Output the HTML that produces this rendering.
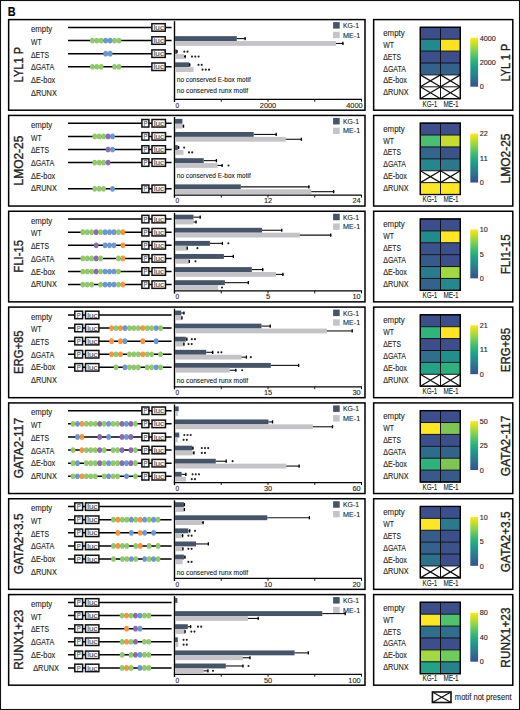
<!DOCTYPE html>
<html><head><meta charset="utf-8"><style>
html,body{margin:0;padding:0;background:#fff;}
svg{display:block;}
</style></head><body>
<svg width="520" height="710" viewBox="0 0 520 710">
<defs><linearGradient id="vir" x1="0" y1="1" x2="0" y2="0">
<stop offset="0.000" stop-color="#3b528b"/>
<stop offset="0.083" stop-color="#355f8d"/>
<stop offset="0.167" stop-color="#2c728e"/>
<stop offset="0.250" stop-color="#26828e"/>
<stop offset="0.333" stop-color="#21918c"/>
<stop offset="0.417" stop-color="#1fa088"/>
<stop offset="0.500" stop-color="#28ae80"/>
<stop offset="0.583" stop-color="#3fbc73"/>
<stop offset="0.667" stop-color="#5ec962"/>
<stop offset="0.750" stop-color="#84d44b"/>
<stop offset="0.833" stop-color="#addc30"/>
<stop offset="0.917" stop-color="#d8e219"/>
<stop offset="1.000" stop-color="#fde725"/>
</linearGradient></defs>
<g font-family='"Liberation Sans", sans-serif' fill="#231f20" stroke="none">
<style>text{stroke:#231f20;stroke-width:0.12px;paint-order:stroke;}</style>
<rect x="0" y="0" width="520" height="710" fill="#fff"/>
<rect x="0.5" y="0.5" width="519" height="709" fill="none" stroke="#111" stroke-width="1.1"/>
<text x="7.8" y="15.7" font-size="12.2" font-weight="bold" fill="#000" textLength="7.9" lengthAdjust="spacingAndGlyphs">B</text>
<rect x="8.65" y="19.60" width="356.35" height="90.6" fill="none" stroke="#000" stroke-width="1.5"/>
<rect x="373.65" y="19.60" width="139.15" height="90.6" fill="none" stroke="#000" stroke-width="1.5"/>
<text transform="translate(22.5 64.70) rotate(-90)" x="0" y="0" font-size="12" style="stroke-width:0.35px" text-anchor="middle" textLength="35.50" lengthAdjust="spacingAndGlyphs">LYL1 P</text>
<text x="31.00" y="32.10" font-size="9.9" text-anchor="start" textLength="21.2" lengthAdjust="spacingAndGlyphs">empty</text>
<text x="31.00" y="44.80" font-size="9.9" text-anchor="start" textLength="10.6" lengthAdjust="spacingAndGlyphs">WT</text>
<text x="31.00" y="57.50" font-size="9.9" text-anchor="start" textLength="18.0" lengthAdjust="spacingAndGlyphs">ΔETS</text>
<text x="31.00" y="70.20" font-size="9.9" text-anchor="start" textLength="23.2" lengthAdjust="spacingAndGlyphs">ΔGATA</text>
<text x="31.00" y="82.90" font-size="9.9" text-anchor="start" textLength="24.2" lengthAdjust="spacingAndGlyphs">ΔE-box</text>
<text x="31.00" y="95.60" font-size="9.9" text-anchor="start" textLength="25.8" lengthAdjust="spacingAndGlyphs">ΔRUNX</text>
<line x1="68" y1="27.45" x2="171.6" y2="27.45" stroke="#000" stroke-width="1.5"/>
<rect x="151.90" y="23.70" width="13.30" height="7.5" fill="#fff" stroke="#111" stroke-width="1.5"/>
<text x="158.75" y="30.05" font-size="7.4" text-anchor="middle" textLength="10.4" lengthAdjust="spacingAndGlyphs" fill="#555" style="stroke:#555;stroke-width:0.15px">luc</text>
<line x1="68" y1="40.55" x2="171.6" y2="40.55" stroke="#000" stroke-width="1.5"/>
<ellipse cx="92.30" cy="40.55" rx="2.35" ry="2.85" fill="#90c96a"/>
<ellipse cx="96.75" cy="40.55" rx="2.35" ry="2.85" fill="#90c96a"/>
<ellipse cx="101.21" cy="40.55" rx="2.35" ry="2.85" fill="#90c96a"/>
<ellipse cx="105.66" cy="40.55" rx="2.35" ry="2.85" fill="#6d97d4"/>
<ellipse cx="110.12" cy="40.55" rx="2.35" ry="2.85" fill="#6d97d4"/>
<ellipse cx="114.57" cy="40.55" rx="2.35" ry="2.85" fill="#90c96a"/>
<ellipse cx="119.03" cy="40.55" rx="2.35" ry="2.85" fill="#90c96a"/>
<rect x="151.90" y="36.80" width="13.30" height="7.5" fill="#fff" stroke="#111" stroke-width="1.5"/>
<text x="158.75" y="43.15" font-size="7.4" text-anchor="middle" textLength="10.4" lengthAdjust="spacingAndGlyphs" fill="#555" style="stroke:#555;stroke-width:0.15px">luc</text>
<line x1="68" y1="53.65" x2="171.6" y2="53.65" stroke="#000" stroke-width="1.5"/>
<ellipse cx="105.66" cy="53.65" rx="2.35" ry="2.85" fill="#6d97d4"/>
<ellipse cx="110.12" cy="53.65" rx="2.35" ry="2.85" fill="#6d97d4"/>
<rect x="151.90" y="49.90" width="13.30" height="7.5" fill="#fff" stroke="#111" stroke-width="1.5"/>
<text x="158.75" y="56.25" font-size="7.4" text-anchor="middle" textLength="10.4" lengthAdjust="spacingAndGlyphs" fill="#555" style="stroke:#555;stroke-width:0.15px">luc</text>
<line x1="68" y1="66.75" x2="171.6" y2="66.75" stroke="#000" stroke-width="1.5"/>
<ellipse cx="92.30" cy="66.75" rx="2.35" ry="2.85" fill="#90c96a"/>
<ellipse cx="96.75" cy="66.75" rx="2.35" ry="2.85" fill="#90c96a"/>
<ellipse cx="101.21" cy="66.75" rx="2.35" ry="2.85" fill="#90c96a"/>
<ellipse cx="114.57" cy="66.75" rx="2.35" ry="2.85" fill="#90c96a"/>
<ellipse cx="119.03" cy="66.75" rx="2.35" ry="2.85" fill="#90c96a"/>
<rect x="151.90" y="63.00" width="13.30" height="7.5" fill="#fff" stroke="#111" stroke-width="1.5"/>
<text x="158.75" y="69.35" font-size="7.4" text-anchor="middle" textLength="10.4" lengthAdjust="spacingAndGlyphs" fill="#555" style="stroke:#555;stroke-width:0.15px">luc</text>
<line x1="174.5" y1="21.20" x2="174.5" y2="101.90" stroke="#000" stroke-width="1.4"/>
<line x1="173.9" y1="99.30" x2="361.9" y2="99.30" stroke="#000" stroke-width="1.3"/>
<line x1="221.25" y1="99.30" x2="221.25" y2="101.70" stroke="#111" stroke-width="1"/>
<line x1="268.00" y1="99.30" x2="268.00" y2="101.70" stroke="#111" stroke-width="1"/>
<line x1="314.75" y1="99.30" x2="314.75" y2="101.70" stroke="#111" stroke-width="1"/>
<line x1="361.50" y1="99.30" x2="361.50" y2="101.70" stroke="#111" stroke-width="1"/>
<text x="177.30" y="107.60" font-size="7" text-anchor="middle" textLength="3.6" lengthAdjust="spacingAndGlyphs">0</text>
<text x="268.00" y="107.60" font-size="7" text-anchor="middle" textLength="16.4" lengthAdjust="spacingAndGlyphs">2000</text>
<text x="362.60" y="107.60" font-size="7" text-anchor="end" textLength="16.4" lengthAdjust="spacingAndGlyphs">4000</text>
<rect x="333.1" y="22.10" width="6.6" height="6.5" fill="#46546a"/>
<rect x="333.1" y="31.80" width="6.6" height="6.4" fill="#c4c4c8"/>
<text x="343.00" y="28.10" font-size="7.8" text-anchor="start" textLength="16.1" lengthAdjust="spacingAndGlyphs">KG-1</text>
<text x="343.00" y="37.60" font-size="7.8" text-anchor="start" textLength="17.2" lengthAdjust="spacingAndGlyphs">ME-1</text>
<rect x="175.00" y="36.15" width="61.80" height="4.90" fill="#46546a"/>
<line x1="236.80" y1="38.60" x2="245.70" y2="38.60" stroke="#111" stroke-width="1.1"/>
<line x1="245.10" y1="37.00" x2="245.10" y2="40.20" stroke="#000" stroke-width="1.3"/>
<rect x="175.00" y="41.05" width="161.00" height="4.80" fill="#c4c4c8"/>
<line x1="336.00" y1="43.45" x2="343.50" y2="43.45" stroke="#111" stroke-width="1.1"/>
<line x1="342.90" y1="41.85" x2="342.90" y2="45.05" stroke="#000" stroke-width="1.3"/>
<rect x="175.00" y="49.25" width="1.60" height="4.90" fill="#46546a"/>
<line x1="176.60" y1="51.70" x2="177.60" y2="51.70" stroke="#111" stroke-width="1.1"/>
<line x1="177.00" y1="50.10" x2="177.00" y2="53.30" stroke="#000" stroke-width="1.3"/>
<ellipse cx="184.30" cy="51.70" rx="1.05" ry="1.1" fill="#222"/>
<ellipse cx="187.50" cy="51.70" rx="1.05" ry="1.1" fill="#222"/>
<rect x="175.00" y="54.15" width="9.00" height="4.80" fill="#c4c4c8"/>
<line x1="184.00" y1="56.55" x2="185.70" y2="56.55" stroke="#111" stroke-width="1.1"/>
<line x1="185.10" y1="54.95" x2="185.10" y2="58.15" stroke="#000" stroke-width="1.3"/>
<ellipse cx="192.00" cy="56.55" rx="1.05" ry="1.1" fill="#222"/>
<ellipse cx="195.30" cy="56.55" rx="1.05" ry="1.1" fill="#222"/>
<ellipse cx="198.60" cy="56.55" rx="1.05" ry="1.1" fill="#222"/>
<rect x="175.00" y="62.35" width="14.20" height="4.90" fill="#46546a"/>
<line x1="189.20" y1="64.80" x2="190.30" y2="64.80" stroke="#111" stroke-width="1.1"/>
<line x1="189.70" y1="63.20" x2="189.70" y2="66.40" stroke="#000" stroke-width="1.3"/>
<ellipse cx="198.50" cy="64.80" rx="1.05" ry="1.1" fill="#222"/>
<ellipse cx="201.70" cy="64.80" rx="1.05" ry="1.1" fill="#222"/>
<rect x="175.00" y="67.25" width="18.60" height="4.80" fill="#c4c4c8"/>
<ellipse cx="202.50" cy="69.65" rx="1.05" ry="1.1" fill="#222"/>
<ellipse cx="205.80" cy="69.65" rx="1.05" ry="1.1" fill="#222"/>
<ellipse cx="209.00" cy="69.65" rx="1.05" ry="1.1" fill="#222"/>
<text x="176.80" y="82.10" font-size="7.8" text-anchor="start" textLength="74" lengthAdjust="spacingAndGlyphs">no conserved E-box motif</text>
<text x="176.80" y="92.50" font-size="7.8" text-anchor="start" textLength="71.3" lengthAdjust="spacingAndGlyphs">no conserved runx motif</text>
<rect x="420.30" y="27.30" width="20.20" height="11.90" fill="#3c4f8c"/>
<rect x="440.50" y="27.30" width="19.80" height="11.90" fill="#3c4f8c"/>
<rect x="420.30" y="39.20" width="20.20" height="11.90" fill="#23898e"/>
<rect x="440.50" y="39.20" width="19.80" height="11.90" fill="#fbe31f"/>
<rect x="420.30" y="51.10" width="20.20" height="11.90" fill="#3c4f8c"/>
<rect x="440.50" y="51.10" width="19.80" height="11.90" fill="#3c4f8c"/>
<rect x="420.30" y="63.00" width="20.20" height="11.90" fill="#33628d"/>
<rect x="440.50" y="63.00" width="19.80" height="11.90" fill="#33628d"/>
<rect x="420.30" y="74.90" width="20.20" height="11.90" fill="#fff"/>
<path d="M420.30 74.90L440.50 86.80M440.50 74.90L420.30 86.80" stroke="#111" stroke-width="1.25"/>
<rect x="440.50" y="74.90" width="19.80" height="11.90" fill="#fff"/>
<path d="M440.50 74.90L460.30 86.80M460.30 74.90L440.50 86.80" stroke="#111" stroke-width="1.25"/>
<rect x="420.30" y="86.80" width="20.20" height="11.90" fill="#fff"/>
<path d="M420.30 86.80L440.50 98.70M440.50 86.80L420.30 98.70" stroke="#111" stroke-width="1.25"/>
<rect x="440.50" y="86.80" width="19.80" height="11.90" fill="#fff"/>
<path d="M440.50 86.80L460.30 98.70M460.30 86.80L440.50 98.70" stroke="#111" stroke-width="1.25"/>
<line x1="420.30" y1="27.30" x2="460.30" y2="27.30" stroke="#111" stroke-width="1"/>
<line x1="420.30" y1="39.20" x2="460.30" y2="39.20" stroke="#111" stroke-width="1"/>
<line x1="420.30" y1="51.10" x2="460.30" y2="51.10" stroke="#111" stroke-width="1"/>
<line x1="420.30" y1="63.00" x2="460.30" y2="63.00" stroke="#111" stroke-width="1"/>
<line x1="420.30" y1="74.90" x2="460.30" y2="74.90" stroke="#111" stroke-width="1"/>
<line x1="420.30" y1="86.80" x2="460.30" y2="86.80" stroke="#111" stroke-width="1"/>
<line x1="420.30" y1="98.70" x2="460.30" y2="98.70" stroke="#111" stroke-width="1"/>
<line x1="420.30" y1="26.80" x2="420.30" y2="99.20" stroke="#111" stroke-width="1"/>
<line x1="440.50" y1="26.80" x2="440.50" y2="99.20" stroke="#111" stroke-width="1"/>
<line x1="460.30" y1="26.80" x2="460.30" y2="99.20" stroke="#111" stroke-width="1"/>
<rect x="420.30" y="27.30" width="40.00" height="71.40" fill="none" stroke="#000" stroke-width="1.3"/>
<text x="383.20" y="35.80" font-size="9.9" text-anchor="start" textLength="21.5" lengthAdjust="spacingAndGlyphs">empty</text>
<text x="383.20" y="47.70" font-size="9.9" text-anchor="start" textLength="10.8" lengthAdjust="spacingAndGlyphs">WT</text>
<text x="383.20" y="59.60" font-size="9.9" text-anchor="start" textLength="17.8" lengthAdjust="spacingAndGlyphs">ΔETS</text>
<text x="383.20" y="71.50" font-size="9.9" text-anchor="start" textLength="22.8" lengthAdjust="spacingAndGlyphs">ΔGATA</text>
<text x="383.20" y="83.40" font-size="9.9" text-anchor="start" textLength="23.7" lengthAdjust="spacingAndGlyphs">ΔE-box</text>
<text x="383.20" y="95.30" font-size="9.9" text-anchor="start" textLength="25.4" lengthAdjust="spacingAndGlyphs">ΔRUNX</text>
<text x="422.50" y="106.50" font-size="8.6" text-anchor="start" textLength="14.8" lengthAdjust="spacingAndGlyphs">KG-1</text>
<text x="443.40" y="106.50" font-size="8.6" text-anchor="start" textLength="15.3" lengthAdjust="spacingAndGlyphs">ME-1</text>
<rect x="470.3" y="37.80" width="7.8" height="48.9" fill="url(#vir)"/>
<text x="479.70" y="40.50" font-size="6.6" text-anchor="start" textLength="16.0" lengthAdjust="spacingAndGlyphs">4000</text>
<text x="479.70" y="64.95" font-size="6.6" text-anchor="start" textLength="16.0" lengthAdjust="spacingAndGlyphs">2000</text>
<text x="479.70" y="89.40" font-size="6.6" text-anchor="start" textLength="4.0" lengthAdjust="spacingAndGlyphs">0</text>
<text transform="translate(510.4 62.60) rotate(-90)" x="0" y="0" font-size="12.2" style="stroke-width:0.35px" text-anchor="middle" textLength="37.90" lengthAdjust="spacingAndGlyphs">LYL 1 P</text>
<rect x="8.65" y="115.43" width="356.35" height="90.6" fill="none" stroke="#000" stroke-width="1.5"/>
<rect x="373.65" y="115.43" width="139.15" height="90.6" fill="none" stroke="#000" stroke-width="1.5"/>
<text transform="translate(22.5 160.53) rotate(-90)" x="0" y="0" font-size="12" style="stroke-width:0.35px" text-anchor="middle" textLength="49.80" lengthAdjust="spacingAndGlyphs">LMO2-25</text>
<text x="31.00" y="127.93" font-size="9.9" text-anchor="start" textLength="21.2" lengthAdjust="spacingAndGlyphs">empty</text>
<text x="31.00" y="140.63" font-size="9.9" text-anchor="start" textLength="10.6" lengthAdjust="spacingAndGlyphs">WT</text>
<text x="31.00" y="153.33" font-size="9.9" text-anchor="start" textLength="18.0" lengthAdjust="spacingAndGlyphs">ΔETS</text>
<text x="31.00" y="166.03" font-size="9.9" text-anchor="start" textLength="23.2" lengthAdjust="spacingAndGlyphs">ΔGATA</text>
<text x="31.00" y="178.73" font-size="9.9" text-anchor="start" textLength="24.2" lengthAdjust="spacingAndGlyphs">ΔE-box</text>
<text x="31.00" y="191.43" font-size="9.9" text-anchor="start" textLength="25.8" lengthAdjust="spacingAndGlyphs">ΔRUNX</text>
<line x1="68" y1="123.28" x2="171.6" y2="123.28" stroke="#000" stroke-width="1.5"/>
<rect x="141.90" y="119.53" width="7.00" height="7.5" fill="#fff" stroke="#111" stroke-width="1.5"/>
<text x="145.40" y="125.88" font-size="7.4" text-anchor="middle" textLength="4.0" lengthAdjust="spacingAndGlyphs" fill="#555" style="stroke:#555;stroke-width:0.15px">P</text>
<rect x="152.00" y="119.53" width="13.50" height="7.5" fill="#fff" stroke="#111" stroke-width="1.5"/>
<text x="158.95" y="125.88" font-size="7.4" text-anchor="middle" textLength="10.4" lengthAdjust="spacingAndGlyphs" fill="#555" style="stroke:#555;stroke-width:0.15px">luc</text>
<line x1="68" y1="136.38" x2="171.6" y2="136.38" stroke="#000" stroke-width="1.5"/>
<ellipse cx="94.70" cy="136.38" rx="2.35" ry="2.85" fill="#90c96a"/>
<ellipse cx="99.16" cy="136.38" rx="2.35" ry="2.85" fill="#90c96a"/>
<ellipse cx="103.61" cy="136.38" rx="2.35" ry="2.85" fill="#90c96a"/>
<ellipse cx="108.06" cy="136.38" rx="2.35" ry="2.85" fill="#8d69b2"/>
<ellipse cx="112.52" cy="136.38" rx="2.35" ry="2.85" fill="#6d97d4"/>
<rect x="141.90" y="132.63" width="7.00" height="7.5" fill="#fff" stroke="#111" stroke-width="1.5"/>
<text x="145.40" y="138.98" font-size="7.4" text-anchor="middle" textLength="4.0" lengthAdjust="spacingAndGlyphs" fill="#555" style="stroke:#555;stroke-width:0.15px">P</text>
<rect x="152.00" y="132.63" width="13.50" height="7.5" fill="#fff" stroke="#111" stroke-width="1.5"/>
<text x="158.95" y="138.98" font-size="7.4" text-anchor="middle" textLength="10.4" lengthAdjust="spacingAndGlyphs" fill="#555" style="stroke:#555;stroke-width:0.15px">luc</text>
<line x1="68" y1="149.48" x2="171.6" y2="149.48" stroke="#000" stroke-width="1.5"/>
<ellipse cx="108.06" cy="149.48" rx="2.35" ry="2.85" fill="#8d69b2"/>
<ellipse cx="112.52" cy="149.48" rx="2.35" ry="2.85" fill="#6d97d4"/>
<rect x="141.90" y="145.73" width="7.00" height="7.5" fill="#fff" stroke="#111" stroke-width="1.5"/>
<text x="145.40" y="152.08" font-size="7.4" text-anchor="middle" textLength="4.0" lengthAdjust="spacingAndGlyphs" fill="#555" style="stroke:#555;stroke-width:0.15px">P</text>
<rect x="152.00" y="145.73" width="13.50" height="7.5" fill="#fff" stroke="#111" stroke-width="1.5"/>
<text x="158.95" y="152.08" font-size="7.4" text-anchor="middle" textLength="10.4" lengthAdjust="spacingAndGlyphs" fill="#555" style="stroke:#555;stroke-width:0.15px">luc</text>
<line x1="68" y1="162.58" x2="171.6" y2="162.58" stroke="#000" stroke-width="1.5"/>
<ellipse cx="94.70" cy="162.58" rx="2.35" ry="2.85" fill="#90c96a"/>
<ellipse cx="99.16" cy="162.58" rx="2.35" ry="2.85" fill="#90c96a"/>
<ellipse cx="103.61" cy="162.58" rx="2.35" ry="2.85" fill="#90c96a"/>
<ellipse cx="108.06" cy="162.58" rx="2.35" ry="2.85" fill="#8d69b2"/>
<rect x="141.90" y="158.83" width="7.00" height="7.5" fill="#fff" stroke="#111" stroke-width="1.5"/>
<text x="145.40" y="165.18" font-size="7.4" text-anchor="middle" textLength="4.0" lengthAdjust="spacingAndGlyphs" fill="#555" style="stroke:#555;stroke-width:0.15px">P</text>
<rect x="152.00" y="158.83" width="13.50" height="7.5" fill="#fff" stroke="#111" stroke-width="1.5"/>
<text x="158.95" y="165.18" font-size="7.4" text-anchor="middle" textLength="10.4" lengthAdjust="spacingAndGlyphs" fill="#555" style="stroke:#555;stroke-width:0.15px">luc</text>
<line x1="68" y1="188.78" x2="171.6" y2="188.78" stroke="#000" stroke-width="1.5"/>
<ellipse cx="94.70" cy="188.78" rx="2.35" ry="2.85" fill="#90c96a"/>
<ellipse cx="99.16" cy="188.78" rx="2.35" ry="2.85" fill="#90c96a"/>
<ellipse cx="103.61" cy="188.78" rx="2.35" ry="2.85" fill="#90c96a"/>
<ellipse cx="112.52" cy="188.78" rx="2.35" ry="2.85" fill="#6d97d4"/>
<rect x="141.90" y="185.03" width="7.00" height="7.5" fill="#fff" stroke="#111" stroke-width="1.5"/>
<text x="145.40" y="191.38" font-size="7.4" text-anchor="middle" textLength="4.0" lengthAdjust="spacingAndGlyphs" fill="#555" style="stroke:#555;stroke-width:0.15px">P</text>
<rect x="152.00" y="185.03" width="13.50" height="7.5" fill="#fff" stroke="#111" stroke-width="1.5"/>
<text x="158.95" y="191.38" font-size="7.4" text-anchor="middle" textLength="10.4" lengthAdjust="spacingAndGlyphs" fill="#555" style="stroke:#555;stroke-width:0.15px">luc</text>
<line x1="174.5" y1="117.03" x2="174.5" y2="197.73" stroke="#000" stroke-width="1.4"/>
<line x1="173.9" y1="195.13" x2="361.9" y2="195.13" stroke="#000" stroke-width="1.3"/>
<line x1="221.25" y1="195.13" x2="221.25" y2="197.53" stroke="#111" stroke-width="1"/>
<line x1="268.00" y1="195.13" x2="268.00" y2="197.53" stroke="#111" stroke-width="1"/>
<line x1="314.75" y1="195.13" x2="314.75" y2="197.53" stroke="#111" stroke-width="1"/>
<line x1="361.50" y1="195.13" x2="361.50" y2="197.53" stroke="#111" stroke-width="1"/>
<text x="177.30" y="203.43" font-size="7" text-anchor="middle" textLength="3.6" lengthAdjust="spacingAndGlyphs">0</text>
<text x="268.00" y="203.43" font-size="7" text-anchor="middle" textLength="8.2" lengthAdjust="spacingAndGlyphs">12</text>
<text x="360.60" y="203.43" font-size="7" text-anchor="end" textLength="8.2" lengthAdjust="spacingAndGlyphs">24</text>
<rect x="333.1" y="117.93" width="6.6" height="6.5" fill="#46546a"/>
<rect x="333.1" y="127.63" width="6.6" height="6.4" fill="#c4c4c8"/>
<text x="343.00" y="123.93" font-size="7.8" text-anchor="start" textLength="16.1" lengthAdjust="spacingAndGlyphs">KG-1</text>
<text x="343.00" y="133.43" font-size="7.8" text-anchor="start" textLength="17.2" lengthAdjust="spacingAndGlyphs">ME-1</text>
<rect x="175.00" y="118.88" width="7.40" height="4.90" fill="#46546a"/>
<rect x="175.00" y="123.78" width="7.60" height="4.80" fill="#c4c4c8"/>
<line x1="182.60" y1="126.18" x2="184.10" y2="126.18" stroke="#111" stroke-width="1.1"/>
<line x1="183.50" y1="124.58" x2="183.50" y2="127.78" stroke="#000" stroke-width="1.3"/>
<rect x="175.00" y="131.98" width="78.70" height="4.90" fill="#46546a"/>
<line x1="253.70" y1="134.43" x2="276.75" y2="134.43" stroke="#111" stroke-width="1.1"/>
<line x1="276.15" y1="132.83" x2="276.15" y2="136.03" stroke="#000" stroke-width="1.3"/>
<rect x="175.00" y="136.88" width="110.75" height="4.80" fill="#c4c4c8"/>
<line x1="285.75" y1="139.28" x2="302.00" y2="139.28" stroke="#111" stroke-width="1.1"/>
<line x1="301.40" y1="137.68" x2="301.40" y2="140.88" stroke="#000" stroke-width="1.3"/>
<rect x="175.00" y="145.08" width="2.80" height="4.90" fill="#46546a"/>
<line x1="177.80" y1="147.53" x2="179.20" y2="147.53" stroke="#111" stroke-width="1.1"/>
<line x1="178.60" y1="145.93" x2="178.60" y2="149.13" stroke="#000" stroke-width="1.3"/>
<ellipse cx="184.10" cy="147.53" rx="1.05" ry="1.1" fill="#222"/>
<rect x="175.00" y="149.98" width="8.50" height="4.80" fill="#c4c4c8"/>
<ellipse cx="189.00" cy="152.38" rx="1.05" ry="1.1" fill="#222"/>
<ellipse cx="192.20" cy="152.38" rx="1.05" ry="1.1" fill="#222"/>
<rect x="175.00" y="158.18" width="28.70" height="4.90" fill="#46546a"/>
<line x1="203.70" y1="160.63" x2="217.00" y2="160.63" stroke="#111" stroke-width="1.1"/>
<line x1="216.40" y1="159.03" x2="216.40" y2="162.23" stroke="#000" stroke-width="1.3"/>
<rect x="175.00" y="163.08" width="42.50" height="4.80" fill="#c4c4c8"/>
<line x1="217.50" y1="165.48" x2="222.70" y2="165.48" stroke="#111" stroke-width="1.1"/>
<line x1="222.10" y1="163.88" x2="222.10" y2="167.08" stroke="#000" stroke-width="1.3"/>
<ellipse cx="228.50" cy="165.48" rx="1.05" ry="1.1" fill="#222"/>
<rect x="175.00" y="184.38" width="65.80" height="4.90" fill="#46546a"/>
<line x1="240.80" y1="186.83" x2="309.50" y2="186.83" stroke="#111" stroke-width="1.1"/>
<line x1="308.90" y1="185.23" x2="308.90" y2="188.43" stroke="#000" stroke-width="1.3"/>
<rect x="175.00" y="189.28" width="136.25" height="4.80" fill="#c4c4c8"/>
<line x1="311.25" y1="191.68" x2="334.25" y2="191.68" stroke="#111" stroke-width="1.1"/>
<line x1="333.65" y1="190.08" x2="333.65" y2="193.28" stroke="#000" stroke-width="1.3"/>
<text x="176.80" y="178.28" font-size="7.8" text-anchor="start" textLength="74" lengthAdjust="spacingAndGlyphs">no conserved E-box motif</text>
<rect x="420.30" y="123.13" width="20.20" height="11.90" fill="#3c4f8c"/>
<rect x="440.50" y="123.13" width="19.80" height="11.90" fill="#3c4f8c"/>
<rect x="420.30" y="135.03" width="20.20" height="11.90" fill="#4bbe72"/>
<rect x="440.50" y="135.03" width="19.80" height="11.90" fill="#c5dc2d"/>
<rect x="420.30" y="146.93" width="20.20" height="11.90" fill="#33658e"/>
<rect x="440.50" y="146.93" width="19.80" height="11.90" fill="#3b538b"/>
<rect x="420.30" y="158.83" width="20.20" height="11.90" fill="#24878e"/>
<rect x="440.50" y="158.83" width="19.80" height="11.90" fill="#2b788e"/>
<rect x="420.30" y="170.73" width="20.20" height="11.90" fill="#fff"/>
<path d="M420.30 170.73L440.50 182.63M440.50 170.73L420.30 182.63" stroke="#111" stroke-width="1.25"/>
<rect x="440.50" y="170.73" width="19.80" height="11.90" fill="#fff"/>
<path d="M440.50 170.73L460.30 182.63M460.30 170.73L440.50 182.63" stroke="#111" stroke-width="1.25"/>
<rect x="420.30" y="182.63" width="20.20" height="11.90" fill="#fde725"/>
<rect x="440.50" y="182.63" width="19.80" height="11.90" fill="#fde725"/>
<line x1="420.30" y1="123.13" x2="460.30" y2="123.13" stroke="#111" stroke-width="1"/>
<line x1="420.30" y1="135.03" x2="460.30" y2="135.03" stroke="#111" stroke-width="1"/>
<line x1="420.30" y1="146.93" x2="460.30" y2="146.93" stroke="#111" stroke-width="1"/>
<line x1="420.30" y1="158.83" x2="460.30" y2="158.83" stroke="#111" stroke-width="1"/>
<line x1="420.30" y1="170.73" x2="460.30" y2="170.73" stroke="#111" stroke-width="1"/>
<line x1="420.30" y1="182.63" x2="460.30" y2="182.63" stroke="#111" stroke-width="1"/>
<line x1="420.30" y1="194.53" x2="460.30" y2="194.53" stroke="#111" stroke-width="1"/>
<line x1="420.30" y1="122.63" x2="420.30" y2="195.03" stroke="#111" stroke-width="1"/>
<line x1="440.50" y1="122.63" x2="440.50" y2="195.03" stroke="#111" stroke-width="1"/>
<line x1="460.30" y1="122.63" x2="460.30" y2="195.03" stroke="#111" stroke-width="1"/>
<rect x="420.30" y="123.13" width="40.00" height="71.40" fill="none" stroke="#000" stroke-width="1.3"/>
<text x="383.20" y="131.63" font-size="9.9" text-anchor="start" textLength="21.5" lengthAdjust="spacingAndGlyphs">empty</text>
<text x="383.20" y="143.53" font-size="9.9" text-anchor="start" textLength="10.8" lengthAdjust="spacingAndGlyphs">WT</text>
<text x="383.20" y="155.43" font-size="9.9" text-anchor="start" textLength="17.8" lengthAdjust="spacingAndGlyphs">ΔETS</text>
<text x="383.20" y="167.33" font-size="9.9" text-anchor="start" textLength="22.8" lengthAdjust="spacingAndGlyphs">ΔGATA</text>
<text x="383.20" y="179.23" font-size="9.9" text-anchor="start" textLength="23.7" lengthAdjust="spacingAndGlyphs">ΔE-box</text>
<text x="383.20" y="191.13" font-size="9.9" text-anchor="start" textLength="25.4" lengthAdjust="spacingAndGlyphs">ΔRUNX</text>
<text x="422.50" y="202.33" font-size="8.6" text-anchor="start" textLength="14.8" lengthAdjust="spacingAndGlyphs">KG-1</text>
<text x="443.40" y="202.33" font-size="8.6" text-anchor="start" textLength="15.3" lengthAdjust="spacingAndGlyphs">ME-1</text>
<rect x="470.3" y="133.63" width="7.8" height="48.9" fill="url(#vir)"/>
<text x="479.70" y="136.33" font-size="6.6" text-anchor="start" textLength="8.0" lengthAdjust="spacingAndGlyphs">22</text>
<text x="479.70" y="160.78" font-size="6.6" text-anchor="start" textLength="8.0" lengthAdjust="spacingAndGlyphs">11</text>
<text x="479.70" y="185.23" font-size="6.6" text-anchor="start" textLength="4.0" lengthAdjust="spacingAndGlyphs">0</text>
<text transform="translate(510.4 158.43) rotate(-90)" x="0" y="0" font-size="12.2" style="stroke-width:0.35px" text-anchor="middle" textLength="49.80" lengthAdjust="spacingAndGlyphs">LMO2-25</text>
<rect x="8.65" y="211.26" width="356.35" height="90.6" fill="none" stroke="#000" stroke-width="1.5"/>
<rect x="373.65" y="211.26" width="139.15" height="90.6" fill="none" stroke="#000" stroke-width="1.5"/>
<text transform="translate(22.5 256.36) rotate(-90)" x="0" y="0" font-size="12" style="stroke-width:0.35px" text-anchor="middle" textLength="32.80" lengthAdjust="spacingAndGlyphs">FLI-15</text>
<text x="31.00" y="223.76" font-size="9.9" text-anchor="start" textLength="21.2" lengthAdjust="spacingAndGlyphs">empty</text>
<text x="31.00" y="236.46" font-size="9.9" text-anchor="start" textLength="10.6" lengthAdjust="spacingAndGlyphs">WT</text>
<text x="31.00" y="249.16" font-size="9.9" text-anchor="start" textLength="18.0" lengthAdjust="spacingAndGlyphs">ΔETS</text>
<text x="31.00" y="261.86" font-size="9.9" text-anchor="start" textLength="23.2" lengthAdjust="spacingAndGlyphs">ΔGATA</text>
<text x="31.00" y="274.56" font-size="9.9" text-anchor="start" textLength="24.2" lengthAdjust="spacingAndGlyphs">ΔE-box</text>
<text x="31.00" y="287.26" font-size="9.9" text-anchor="start" textLength="25.8" lengthAdjust="spacingAndGlyphs">ΔRUNX</text>
<line x1="68" y1="219.11" x2="171.6" y2="219.11" stroke="#000" stroke-width="1.5"/>
<rect x="141.90" y="215.36" width="7.00" height="7.5" fill="#fff" stroke="#111" stroke-width="1.5"/>
<text x="145.40" y="221.71" font-size="7.4" text-anchor="middle" textLength="4.0" lengthAdjust="spacingAndGlyphs" fill="#555" style="stroke:#555;stroke-width:0.15px">P</text>
<rect x="152.00" y="215.36" width="13.50" height="7.5" fill="#fff" stroke="#111" stroke-width="1.5"/>
<text x="158.95" y="221.71" font-size="7.4" text-anchor="middle" textLength="10.4" lengthAdjust="spacingAndGlyphs" fill="#555" style="stroke:#555;stroke-width:0.15px">luc</text>
<line x1="68" y1="232.21" x2="171.6" y2="232.21" stroke="#000" stroke-width="1.5"/>
<ellipse cx="82.80" cy="232.21" rx="2.35" ry="2.85" fill="#90c96a"/>
<ellipse cx="87.25" cy="232.21" rx="2.35" ry="2.85" fill="#90c96a"/>
<ellipse cx="91.71" cy="232.21" rx="2.35" ry="2.85" fill="#90c96a"/>
<ellipse cx="96.16" cy="232.21" rx="2.35" ry="2.85" fill="#8d69b2"/>
<ellipse cx="100.62" cy="232.21" rx="2.35" ry="2.85" fill="#90c96a"/>
<ellipse cx="105.07" cy="232.21" rx="2.35" ry="2.85" fill="#6d97d4"/>
<ellipse cx="109.53" cy="232.21" rx="2.35" ry="2.85" fill="#6d97d4"/>
<ellipse cx="113.98" cy="232.21" rx="2.35" ry="2.85" fill="#6d97d4"/>
<ellipse cx="118.44" cy="232.21" rx="2.35" ry="2.85" fill="#90c96a"/>
<ellipse cx="122.89" cy="232.21" rx="2.35" ry="2.85" fill="#f6953b"/>
<rect x="141.90" y="228.46" width="7.00" height="7.5" fill="#fff" stroke="#111" stroke-width="1.5"/>
<text x="145.40" y="234.81" font-size="7.4" text-anchor="middle" textLength="4.0" lengthAdjust="spacingAndGlyphs" fill="#555" style="stroke:#555;stroke-width:0.15px">P</text>
<rect x="152.00" y="228.46" width="13.50" height="7.5" fill="#fff" stroke="#111" stroke-width="1.5"/>
<text x="158.95" y="234.81" font-size="7.4" text-anchor="middle" textLength="10.4" lengthAdjust="spacingAndGlyphs" fill="#555" style="stroke:#555;stroke-width:0.15px">luc</text>
<line x1="68" y1="245.31" x2="171.6" y2="245.31" stroke="#000" stroke-width="1.5"/>
<ellipse cx="96.16" cy="245.31" rx="2.35" ry="2.85" fill="#8d69b2"/>
<ellipse cx="105.07" cy="245.31" rx="2.35" ry="2.85" fill="#6d97d4"/>
<ellipse cx="109.53" cy="245.31" rx="2.35" ry="2.85" fill="#6d97d4"/>
<ellipse cx="113.98" cy="245.31" rx="2.35" ry="2.85" fill="#6d97d4"/>
<ellipse cx="122.89" cy="245.31" rx="2.35" ry="2.85" fill="#f6953b"/>
<rect x="141.90" y="241.56" width="7.00" height="7.5" fill="#fff" stroke="#111" stroke-width="1.5"/>
<text x="145.40" y="247.91" font-size="7.4" text-anchor="middle" textLength="4.0" lengthAdjust="spacingAndGlyphs" fill="#555" style="stroke:#555;stroke-width:0.15px">P</text>
<rect x="152.00" y="241.56" width="13.50" height="7.5" fill="#fff" stroke="#111" stroke-width="1.5"/>
<text x="158.95" y="247.91" font-size="7.4" text-anchor="middle" textLength="10.4" lengthAdjust="spacingAndGlyphs" fill="#555" style="stroke:#555;stroke-width:0.15px">luc</text>
<line x1="68" y1="258.41" x2="171.6" y2="258.41" stroke="#000" stroke-width="1.5"/>
<ellipse cx="82.80" cy="258.41" rx="2.35" ry="2.85" fill="#90c96a"/>
<ellipse cx="87.25" cy="258.41" rx="2.35" ry="2.85" fill="#90c96a"/>
<ellipse cx="91.71" cy="258.41" rx="2.35" ry="2.85" fill="#90c96a"/>
<ellipse cx="96.16" cy="258.41" rx="2.35" ry="2.85" fill="#8d69b2"/>
<ellipse cx="100.62" cy="258.41" rx="2.35" ry="2.85" fill="#90c96a"/>
<ellipse cx="118.44" cy="258.41" rx="2.35" ry="2.85" fill="#90c96a"/>
<ellipse cx="122.89" cy="258.41" rx="2.35" ry="2.85" fill="#f6953b"/>
<rect x="141.90" y="254.66" width="7.00" height="7.5" fill="#fff" stroke="#111" stroke-width="1.5"/>
<text x="145.40" y="261.01" font-size="7.4" text-anchor="middle" textLength="4.0" lengthAdjust="spacingAndGlyphs" fill="#555" style="stroke:#555;stroke-width:0.15px">P</text>
<rect x="152.00" y="254.66" width="13.50" height="7.5" fill="#fff" stroke="#111" stroke-width="1.5"/>
<text x="158.95" y="261.01" font-size="7.4" text-anchor="middle" textLength="10.4" lengthAdjust="spacingAndGlyphs" fill="#555" style="stroke:#555;stroke-width:0.15px">luc</text>
<line x1="68" y1="271.51" x2="171.6" y2="271.51" stroke="#000" stroke-width="1.5"/>
<ellipse cx="82.80" cy="271.51" rx="2.35" ry="2.85" fill="#90c96a"/>
<ellipse cx="87.25" cy="271.51" rx="2.35" ry="2.85" fill="#90c96a"/>
<ellipse cx="91.71" cy="271.51" rx="2.35" ry="2.85" fill="#90c96a"/>
<ellipse cx="96.16" cy="271.51" rx="2.35" ry="2.85" fill="#8d69b2"/>
<ellipse cx="100.62" cy="271.51" rx="2.35" ry="2.85" fill="#90c96a"/>
<ellipse cx="105.07" cy="271.51" rx="2.35" ry="2.85" fill="#6d97d4"/>
<ellipse cx="109.53" cy="271.51" rx="2.35" ry="2.85" fill="#6d97d4"/>
<ellipse cx="113.98" cy="271.51" rx="2.35" ry="2.85" fill="#6d97d4"/>
<ellipse cx="118.44" cy="271.51" rx="2.35" ry="2.85" fill="#90c96a"/>
<rect x="141.90" y="267.76" width="7.00" height="7.5" fill="#fff" stroke="#111" stroke-width="1.5"/>
<text x="145.40" y="274.11" font-size="7.4" text-anchor="middle" textLength="4.0" lengthAdjust="spacingAndGlyphs" fill="#555" style="stroke:#555;stroke-width:0.15px">P</text>
<rect x="152.00" y="267.76" width="13.50" height="7.5" fill="#fff" stroke="#111" stroke-width="1.5"/>
<text x="158.95" y="274.11" font-size="7.4" text-anchor="middle" textLength="10.4" lengthAdjust="spacingAndGlyphs" fill="#555" style="stroke:#555;stroke-width:0.15px">luc</text>
<line x1="68" y1="284.61" x2="171.6" y2="284.61" stroke="#000" stroke-width="1.5"/>
<ellipse cx="82.80" cy="284.61" rx="2.35" ry="2.85" fill="#90c96a"/>
<ellipse cx="87.25" cy="284.61" rx="2.35" ry="2.85" fill="#90c96a"/>
<ellipse cx="91.71" cy="284.61" rx="2.35" ry="2.85" fill="#90c96a"/>
<ellipse cx="100.62" cy="284.61" rx="2.35" ry="2.85" fill="#90c96a"/>
<ellipse cx="105.07" cy="284.61" rx="2.35" ry="2.85" fill="#6d97d4"/>
<ellipse cx="109.53" cy="284.61" rx="2.35" ry="2.85" fill="#6d97d4"/>
<ellipse cx="113.98" cy="284.61" rx="2.35" ry="2.85" fill="#6d97d4"/>
<ellipse cx="118.44" cy="284.61" rx="2.35" ry="2.85" fill="#90c96a"/>
<ellipse cx="122.89" cy="284.61" rx="2.35" ry="2.85" fill="#f6953b"/>
<rect x="141.90" y="280.86" width="7.00" height="7.5" fill="#fff" stroke="#111" stroke-width="1.5"/>
<text x="145.40" y="287.21" font-size="7.4" text-anchor="middle" textLength="4.0" lengthAdjust="spacingAndGlyphs" fill="#555" style="stroke:#555;stroke-width:0.15px">P</text>
<rect x="152.00" y="280.86" width="13.50" height="7.5" fill="#fff" stroke="#111" stroke-width="1.5"/>
<text x="158.95" y="287.21" font-size="7.4" text-anchor="middle" textLength="10.4" lengthAdjust="spacingAndGlyphs" fill="#555" style="stroke:#555;stroke-width:0.15px">luc</text>
<line x1="174.5" y1="212.86" x2="174.5" y2="293.56" stroke="#000" stroke-width="1.4"/>
<line x1="173.9" y1="290.96" x2="361.9" y2="290.96" stroke="#000" stroke-width="1.3"/>
<line x1="221.25" y1="290.96" x2="221.25" y2="293.36" stroke="#111" stroke-width="1"/>
<line x1="268.00" y1="290.96" x2="268.00" y2="293.36" stroke="#111" stroke-width="1"/>
<line x1="314.75" y1="290.96" x2="314.75" y2="293.36" stroke="#111" stroke-width="1"/>
<line x1="361.50" y1="290.96" x2="361.50" y2="293.36" stroke="#111" stroke-width="1"/>
<text x="177.30" y="299.26" font-size="7" text-anchor="middle" textLength="3.6" lengthAdjust="spacingAndGlyphs">0</text>
<text x="268.00" y="299.26" font-size="7" text-anchor="middle" textLength="4.2" lengthAdjust="spacingAndGlyphs">5</text>
<text x="360.60" y="299.26" font-size="7" text-anchor="end" textLength="8.2" lengthAdjust="spacingAndGlyphs">10</text>
<rect x="333.1" y="213.76" width="6.6" height="6.5" fill="#46546a"/>
<rect x="333.1" y="223.46" width="6.6" height="6.4" fill="#c4c4c8"/>
<text x="343.00" y="219.76" font-size="7.8" text-anchor="start" textLength="16.1" lengthAdjust="spacingAndGlyphs">KG-1</text>
<text x="343.00" y="229.26" font-size="7.8" text-anchor="start" textLength="17.2" lengthAdjust="spacingAndGlyphs">ME-1</text>
<rect x="175.00" y="214.71" width="18.50" height="4.90" fill="#46546a"/>
<line x1="193.50" y1="217.16" x2="200.80" y2="217.16" stroke="#111" stroke-width="1.1"/>
<line x1="200.20" y1="215.56" x2="200.20" y2="218.76" stroke="#000" stroke-width="1.3"/>
<rect x="175.00" y="219.61" width="18.50" height="4.80" fill="#c4c4c8"/>
<line x1="193.50" y1="222.01" x2="196.60" y2="222.01" stroke="#111" stroke-width="1.1"/>
<line x1="196.00" y1="220.41" x2="196.00" y2="223.61" stroke="#000" stroke-width="1.3"/>
<rect x="175.00" y="227.81" width="87.00" height="4.90" fill="#46546a"/>
<line x1="262.00" y1="230.26" x2="282.30" y2="230.26" stroke="#111" stroke-width="1.1"/>
<line x1="281.70" y1="228.66" x2="281.70" y2="231.86" stroke="#000" stroke-width="1.3"/>
<rect x="175.00" y="232.71" width="124.70" height="4.80" fill="#c4c4c8"/>
<line x1="299.70" y1="235.11" x2="331.30" y2="235.11" stroke="#111" stroke-width="1.1"/>
<line x1="330.70" y1="233.51" x2="330.70" y2="236.71" stroke="#000" stroke-width="1.3"/>
<rect x="175.00" y="240.91" width="34.90" height="4.90" fill="#46546a"/>
<line x1="209.90" y1="243.36" x2="223.00" y2="243.36" stroke="#111" stroke-width="1.1"/>
<line x1="222.40" y1="241.76" x2="222.40" y2="244.96" stroke="#000" stroke-width="1.3"/>
<ellipse cx="228.30" cy="243.36" rx="1.05" ry="1.1" fill="#222"/>
<rect x="175.00" y="245.81" width="12.00" height="4.80" fill="#c4c4c8"/>
<line x1="187.00" y1="248.21" x2="187.80" y2="248.21" stroke="#111" stroke-width="1.1"/>
<line x1="187.20" y1="246.61" x2="187.20" y2="249.81" stroke="#000" stroke-width="1.3"/>
<ellipse cx="197.40" cy="248.21" rx="1.05" ry="1.1" fill="#222"/>
<rect x="175.00" y="254.01" width="48.90" height="4.90" fill="#46546a"/>
<line x1="223.90" y1="256.46" x2="233.90" y2="256.46" stroke="#111" stroke-width="1.1"/>
<line x1="233.30" y1="254.86" x2="233.30" y2="258.06" stroke="#000" stroke-width="1.3"/>
<rect x="175.00" y="258.91" width="13.90" height="4.80" fill="#c4c4c8"/>
<line x1="188.90" y1="261.31" x2="189.90" y2="261.31" stroke="#111" stroke-width="1.1"/>
<line x1="189.30" y1="259.71" x2="189.30" y2="262.91" stroke="#000" stroke-width="1.3"/>
<ellipse cx="195.50" cy="261.31" rx="1.05" ry="1.1" fill="#222"/>
<rect x="175.00" y="267.11" width="76.80" height="4.90" fill="#46546a"/>
<line x1="251.80" y1="269.56" x2="263.30" y2="269.56" stroke="#111" stroke-width="1.1"/>
<line x1="262.70" y1="267.96" x2="262.70" y2="271.16" stroke="#000" stroke-width="1.3"/>
<rect x="175.00" y="272.01" width="100.90" height="4.80" fill="#c4c4c8"/>
<line x1="275.90" y1="274.41" x2="283.50" y2="274.41" stroke="#111" stroke-width="1.1"/>
<line x1="282.90" y1="272.81" x2="282.90" y2="276.01" stroke="#000" stroke-width="1.3"/>
<rect x="175.00" y="280.21" width="49.90" height="4.90" fill="#46546a"/>
<line x1="224.90" y1="282.66" x2="248.90" y2="282.66" stroke="#111" stroke-width="1.1"/>
<line x1="248.30" y1="281.06" x2="248.30" y2="284.26" stroke="#000" stroke-width="1.3"/>
<rect x="175.00" y="285.11" width="43.20" height="4.80" fill="#c4c4c8"/>
<ellipse cx="222.00" cy="287.51" rx="1.05" ry="1.1" fill="#222"/>
<rect x="420.30" y="218.96" width="20.20" height="11.90" fill="#3c4f8c"/>
<rect x="440.50" y="218.96" width="19.80" height="11.90" fill="#3c4f8c"/>
<rect x="420.30" y="230.86" width="20.20" height="11.90" fill="#228a8d"/>
<rect x="440.50" y="230.86" width="19.80" height="11.90" fill="#fde725"/>
<rect x="420.30" y="242.76" width="20.20" height="11.90" fill="#3b528b"/>
<rect x="440.50" y="242.76" width="19.80" height="11.90" fill="#3c4f8c"/>
<rect x="420.30" y="254.66" width="20.20" height="11.90" fill="#38598c"/>
<rect x="440.50" y="254.66" width="19.80" height="11.90" fill="#3c4f8c"/>
<rect x="420.30" y="266.56" width="20.20" height="11.90" fill="#287c8e"/>
<rect x="440.50" y="266.56" width="19.80" height="11.90" fill="#9fd83f"/>
<rect x="420.30" y="278.46" width="20.20" height="11.90" fill="#33628d"/>
<rect x="440.50" y="278.46" width="19.80" height="11.90" fill="#23898e"/>
<line x1="420.30" y1="218.96" x2="460.30" y2="218.96" stroke="#111" stroke-width="1"/>
<line x1="420.30" y1="230.86" x2="460.30" y2="230.86" stroke="#111" stroke-width="1"/>
<line x1="420.30" y1="242.76" x2="460.30" y2="242.76" stroke="#111" stroke-width="1"/>
<line x1="420.30" y1="254.66" x2="460.30" y2="254.66" stroke="#111" stroke-width="1"/>
<line x1="420.30" y1="266.56" x2="460.30" y2="266.56" stroke="#111" stroke-width="1"/>
<line x1="420.30" y1="278.46" x2="460.30" y2="278.46" stroke="#111" stroke-width="1"/>
<line x1="420.30" y1="290.36" x2="460.30" y2="290.36" stroke="#111" stroke-width="1"/>
<line x1="420.30" y1="218.46" x2="420.30" y2="290.86" stroke="#111" stroke-width="1"/>
<line x1="440.50" y1="218.46" x2="440.50" y2="290.86" stroke="#111" stroke-width="1"/>
<line x1="460.30" y1="218.46" x2="460.30" y2="290.86" stroke="#111" stroke-width="1"/>
<rect x="420.30" y="218.96" width="40.00" height="71.40" fill="none" stroke="#000" stroke-width="1.3"/>
<text x="383.20" y="227.46" font-size="9.9" text-anchor="start" textLength="21.5" lengthAdjust="spacingAndGlyphs">empty</text>
<text x="383.20" y="239.36" font-size="9.9" text-anchor="start" textLength="10.8" lengthAdjust="spacingAndGlyphs">WT</text>
<text x="383.20" y="251.26" font-size="9.9" text-anchor="start" textLength="17.8" lengthAdjust="spacingAndGlyphs">ΔETS</text>
<text x="383.20" y="263.16" font-size="9.9" text-anchor="start" textLength="22.8" lengthAdjust="spacingAndGlyphs">ΔGATA</text>
<text x="383.20" y="275.06" font-size="9.9" text-anchor="start" textLength="23.7" lengthAdjust="spacingAndGlyphs">ΔE-box</text>
<text x="383.20" y="286.96" font-size="9.9" text-anchor="start" textLength="25.4" lengthAdjust="spacingAndGlyphs">ΔRUNX</text>
<text x="422.50" y="298.16" font-size="8.6" text-anchor="start" textLength="14.8" lengthAdjust="spacingAndGlyphs">KG-1</text>
<text x="443.40" y="298.16" font-size="8.6" text-anchor="start" textLength="15.3" lengthAdjust="spacingAndGlyphs">ME-1</text>
<rect x="470.3" y="229.46" width="7.8" height="48.9" fill="url(#vir)"/>
<text x="479.70" y="232.16" font-size="6.6" text-anchor="start" textLength="8.0" lengthAdjust="spacingAndGlyphs">10</text>
<text x="479.70" y="256.61" font-size="6.6" text-anchor="start" textLength="4.0" lengthAdjust="spacingAndGlyphs">5</text>
<text x="479.70" y="281.06" font-size="6.6" text-anchor="start" textLength="4.0" lengthAdjust="spacingAndGlyphs">0</text>
<text transform="translate(510.4 254.26) rotate(-90)" x="0" y="0" font-size="12.2" style="stroke-width:0.35px" text-anchor="middle" textLength="39.90" lengthAdjust="spacingAndGlyphs">FLI1-15</text>
<rect x="8.65" y="307.09" width="356.35" height="90.6" fill="none" stroke="#000" stroke-width="1.5"/>
<rect x="373.65" y="307.09" width="139.15" height="90.6" fill="none" stroke="#000" stroke-width="1.5"/>
<text transform="translate(22.5 352.19) rotate(-90)" x="0" y="0" font-size="12" style="stroke-width:0.35px" text-anchor="middle" textLength="43.60" lengthAdjust="spacingAndGlyphs">ERG+85</text>
<text x="31.00" y="319.59" font-size="9.9" text-anchor="start" textLength="21.2" lengthAdjust="spacingAndGlyphs">empty</text>
<text x="31.00" y="332.29" font-size="9.9" text-anchor="start" textLength="10.6" lengthAdjust="spacingAndGlyphs">WT</text>
<text x="31.00" y="344.99" font-size="9.9" text-anchor="start" textLength="18.0" lengthAdjust="spacingAndGlyphs">ΔETS</text>
<text x="31.00" y="357.69" font-size="9.9" text-anchor="start" textLength="23.2" lengthAdjust="spacingAndGlyphs">ΔGATA</text>
<text x="31.00" y="370.39" font-size="9.9" text-anchor="start" textLength="24.2" lengthAdjust="spacingAndGlyphs">ΔE-box</text>
<text x="31.00" y="383.09" font-size="9.9" text-anchor="start" textLength="25.8" lengthAdjust="spacingAndGlyphs">ΔRUNX</text>
<line x1="68" y1="314.94" x2="171.6" y2="314.94" stroke="#000" stroke-width="1.5"/>
<rect x="74.80" y="311.19" width="7.80" height="7.5" fill="#fff" stroke="#111" stroke-width="1.5"/>
<text x="78.70" y="317.54" font-size="7.4" text-anchor="middle" textLength="4.0" lengthAdjust="spacingAndGlyphs" fill="#555" style="stroke:#555;stroke-width:0.15px">P</text>
<rect x="85.50" y="311.19" width="13.40" height="7.5" fill="#fff" stroke="#111" stroke-width="1.5"/>
<text x="92.40" y="317.54" font-size="7.4" text-anchor="middle" textLength="10.4" lengthAdjust="spacingAndGlyphs" fill="#555" style="stroke:#555;stroke-width:0.15px">luc</text>
<line x1="68" y1="328.04" x2="171.6" y2="328.04" stroke="#000" stroke-width="1.5"/>
<ellipse cx="111.60" cy="328.04" rx="2.35" ry="2.85" fill="#f6953b"/>
<ellipse cx="116.05" cy="328.04" rx="2.35" ry="2.85" fill="#90c96a"/>
<ellipse cx="120.51" cy="328.04" rx="2.35" ry="2.85" fill="#f6953b"/>
<ellipse cx="124.96" cy="328.04" rx="2.35" ry="2.85" fill="#6d97d4"/>
<ellipse cx="129.42" cy="328.04" rx="2.35" ry="2.85" fill="#90c96a"/>
<ellipse cx="133.88" cy="328.04" rx="2.35" ry="2.85" fill="#90c96a"/>
<ellipse cx="138.33" cy="328.04" rx="2.35" ry="2.85" fill="#90c96a"/>
<ellipse cx="142.78" cy="328.04" rx="2.35" ry="2.85" fill="#f6953b"/>
<ellipse cx="147.24" cy="328.04" rx="2.35" ry="2.85" fill="#90c96a"/>
<ellipse cx="151.69" cy="328.04" rx="2.35" ry="2.85" fill="#90c96a"/>
<ellipse cx="156.15" cy="328.04" rx="2.35" ry="2.85" fill="#6d97d4"/>
<ellipse cx="160.60" cy="328.04" rx="2.35" ry="2.85" fill="#90c96a"/>
<rect x="74.80" y="324.29" width="7.80" height="7.5" fill="#fff" stroke="#111" stroke-width="1.5"/>
<text x="78.70" y="330.64" font-size="7.4" text-anchor="middle" textLength="4.0" lengthAdjust="spacingAndGlyphs" fill="#555" style="stroke:#555;stroke-width:0.15px">P</text>
<rect x="85.50" y="324.29" width="13.40" height="7.5" fill="#fff" stroke="#111" stroke-width="1.5"/>
<text x="92.40" y="330.64" font-size="7.4" text-anchor="middle" textLength="10.4" lengthAdjust="spacingAndGlyphs" fill="#555" style="stroke:#555;stroke-width:0.15px">luc</text>
<line x1="68" y1="341.14" x2="171.6" y2="341.14" stroke="#000" stroke-width="1.5"/>
<ellipse cx="111.60" cy="341.14" rx="2.35" ry="2.85" fill="#f6953b"/>
<ellipse cx="120.51" cy="341.14" rx="2.35" ry="2.85" fill="#f6953b"/>
<ellipse cx="124.96" cy="341.14" rx="2.35" ry="2.85" fill="#6d97d4"/>
<ellipse cx="142.78" cy="341.14" rx="2.35" ry="2.85" fill="#f6953b"/>
<ellipse cx="156.15" cy="341.14" rx="2.35" ry="2.85" fill="#6d97d4"/>
<rect x="74.80" y="337.39" width="7.80" height="7.5" fill="#fff" stroke="#111" stroke-width="1.5"/>
<text x="78.70" y="343.74" font-size="7.4" text-anchor="middle" textLength="4.0" lengthAdjust="spacingAndGlyphs" fill="#555" style="stroke:#555;stroke-width:0.15px">P</text>
<rect x="85.50" y="337.39" width="13.40" height="7.5" fill="#fff" stroke="#111" stroke-width="1.5"/>
<text x="92.40" y="343.74" font-size="7.4" text-anchor="middle" textLength="10.4" lengthAdjust="spacingAndGlyphs" fill="#555" style="stroke:#555;stroke-width:0.15px">luc</text>
<line x1="68" y1="354.24" x2="171.6" y2="354.24" stroke="#000" stroke-width="1.5"/>
<ellipse cx="111.60" cy="354.24" rx="2.35" ry="2.85" fill="#f6953b"/>
<ellipse cx="116.05" cy="354.24" rx="2.35" ry="2.85" fill="#90c96a"/>
<ellipse cx="120.51" cy="354.24" rx="2.35" ry="2.85" fill="#f6953b"/>
<ellipse cx="129.42" cy="354.24" rx="2.35" ry="2.85" fill="#90c96a"/>
<ellipse cx="133.88" cy="354.24" rx="2.35" ry="2.85" fill="#90c96a"/>
<ellipse cx="138.33" cy="354.24" rx="2.35" ry="2.85" fill="#90c96a"/>
<ellipse cx="142.78" cy="354.24" rx="2.35" ry="2.85" fill="#f6953b"/>
<ellipse cx="147.24" cy="354.24" rx="2.35" ry="2.85" fill="#90c96a"/>
<ellipse cx="151.69" cy="354.24" rx="2.35" ry="2.85" fill="#90c96a"/>
<ellipse cx="160.60" cy="354.24" rx="2.35" ry="2.85" fill="#90c96a"/>
<rect x="74.80" y="350.49" width="7.80" height="7.5" fill="#fff" stroke="#111" stroke-width="1.5"/>
<text x="78.70" y="356.84" font-size="7.4" text-anchor="middle" textLength="4.0" lengthAdjust="spacingAndGlyphs" fill="#555" style="stroke:#555;stroke-width:0.15px">P</text>
<rect x="85.50" y="350.49" width="13.40" height="7.5" fill="#fff" stroke="#111" stroke-width="1.5"/>
<text x="92.40" y="356.84" font-size="7.4" text-anchor="middle" textLength="10.4" lengthAdjust="spacingAndGlyphs" fill="#555" style="stroke:#555;stroke-width:0.15px">luc</text>
<line x1="68" y1="367.34" x2="171.6" y2="367.34" stroke="#000" stroke-width="1.5"/>
<ellipse cx="116.05" cy="367.34" rx="2.35" ry="2.85" fill="#90c96a"/>
<ellipse cx="124.96" cy="367.34" rx="2.35" ry="2.85" fill="#6d97d4"/>
<ellipse cx="129.42" cy="367.34" rx="2.35" ry="2.85" fill="#90c96a"/>
<ellipse cx="133.88" cy="367.34" rx="2.35" ry="2.85" fill="#90c96a"/>
<ellipse cx="138.33" cy="367.34" rx="2.35" ry="2.85" fill="#90c96a"/>
<ellipse cx="147.24" cy="367.34" rx="2.35" ry="2.85" fill="#90c96a"/>
<ellipse cx="151.69" cy="367.34" rx="2.35" ry="2.85" fill="#90c96a"/>
<ellipse cx="156.15" cy="367.34" rx="2.35" ry="2.85" fill="#6d97d4"/>
<ellipse cx="160.60" cy="367.34" rx="2.35" ry="2.85" fill="#90c96a"/>
<rect x="74.80" y="363.59" width="7.80" height="7.5" fill="#fff" stroke="#111" stroke-width="1.5"/>
<text x="78.70" y="369.94" font-size="7.4" text-anchor="middle" textLength="4.0" lengthAdjust="spacingAndGlyphs" fill="#555" style="stroke:#555;stroke-width:0.15px">P</text>
<rect x="85.50" y="363.59" width="13.40" height="7.5" fill="#fff" stroke="#111" stroke-width="1.5"/>
<text x="92.40" y="369.94" font-size="7.4" text-anchor="middle" textLength="10.4" lengthAdjust="spacingAndGlyphs" fill="#555" style="stroke:#555;stroke-width:0.15px">luc</text>
<line x1="174.5" y1="308.69" x2="174.5" y2="389.39" stroke="#000" stroke-width="1.4"/>
<line x1="173.9" y1="386.79" x2="361.9" y2="386.79" stroke="#000" stroke-width="1.3"/>
<line x1="221.25" y1="386.79" x2="221.25" y2="389.19" stroke="#111" stroke-width="1"/>
<line x1="268.00" y1="386.79" x2="268.00" y2="389.19" stroke="#111" stroke-width="1"/>
<line x1="314.75" y1="386.79" x2="314.75" y2="389.19" stroke="#111" stroke-width="1"/>
<line x1="361.50" y1="386.79" x2="361.50" y2="389.19" stroke="#111" stroke-width="1"/>
<text x="177.30" y="395.09" font-size="7" text-anchor="middle" textLength="3.6" lengthAdjust="spacingAndGlyphs">0</text>
<text x="268.00" y="395.09" font-size="7" text-anchor="middle" textLength="8.2" lengthAdjust="spacingAndGlyphs">15</text>
<text x="360.60" y="395.09" font-size="7" text-anchor="end" textLength="8.2" lengthAdjust="spacingAndGlyphs">30</text>
<rect x="333.1" y="309.59" width="6.6" height="6.5" fill="#46546a"/>
<rect x="333.1" y="319.29" width="6.6" height="6.4" fill="#c4c4c8"/>
<text x="343.00" y="315.59" font-size="7.8" text-anchor="start" textLength="16.1" lengthAdjust="spacingAndGlyphs">KG-1</text>
<text x="343.00" y="325.09" font-size="7.8" text-anchor="start" textLength="17.2" lengthAdjust="spacingAndGlyphs">ME-1</text>
<rect x="175.00" y="310.54" width="6.20" height="4.90" fill="#46546a"/>
<line x1="181.20" y1="312.99" x2="184.50" y2="312.99" stroke="#111" stroke-width="1.1"/>
<line x1="183.90" y1="311.39" x2="183.90" y2="314.59" stroke="#000" stroke-width="1.3"/>
<rect x="175.00" y="315.44" width="7.00" height="4.80" fill="#c4c4c8"/>
<line x1="182.00" y1="317.84" x2="182.50" y2="317.84" stroke="#111" stroke-width="1.1"/>
<line x1="181.90" y1="316.24" x2="181.90" y2="319.44" stroke="#000" stroke-width="1.3"/>
<rect x="175.00" y="323.64" width="86.50" height="4.90" fill="#46546a"/>
<line x1="261.50" y1="326.09" x2="270.80" y2="326.09" stroke="#111" stroke-width="1.1"/>
<line x1="270.20" y1="324.49" x2="270.20" y2="327.69" stroke="#000" stroke-width="1.3"/>
<rect x="175.00" y="328.54" width="151.90" height="4.80" fill="#c4c4c8"/>
<line x1="326.90" y1="330.94" x2="352.80" y2="330.94" stroke="#111" stroke-width="1.1"/>
<line x1="352.20" y1="329.34" x2="352.20" y2="332.54" stroke="#000" stroke-width="1.3"/>
<rect x="175.00" y="336.74" width="10.80" height="4.90" fill="#46546a"/>
<line x1="185.80" y1="339.19" x2="187.40" y2="339.19" stroke="#111" stroke-width="1.1"/>
<line x1="186.80" y1="337.59" x2="186.80" y2="340.79" stroke="#000" stroke-width="1.3"/>
<ellipse cx="191.80" cy="339.19" rx="1.05" ry="1.1" fill="#222"/>
<ellipse cx="195.00" cy="339.19" rx="1.05" ry="1.1" fill="#222"/>
<rect x="175.00" y="341.64" width="8.50" height="4.80" fill="#c4c4c8"/>
<line x1="183.50" y1="344.04" x2="184.50" y2="344.04" stroke="#111" stroke-width="1.1"/>
<line x1="183.90" y1="342.44" x2="183.90" y2="345.64" stroke="#000" stroke-width="1.3"/>
<ellipse cx="188.50" cy="344.04" rx="1.05" ry="1.1" fill="#222"/>
<ellipse cx="191.70" cy="344.04" rx="1.05" ry="1.1" fill="#222"/>
<rect x="175.00" y="349.84" width="31.20" height="4.90" fill="#46546a"/>
<line x1="206.20" y1="352.29" x2="213.30" y2="352.29" stroke="#111" stroke-width="1.1"/>
<line x1="212.70" y1="350.69" x2="212.70" y2="353.89" stroke="#000" stroke-width="1.3"/>
<ellipse cx="218.20" cy="352.29" rx="1.05" ry="1.1" fill="#222"/>
<ellipse cx="221.40" cy="352.29" rx="1.05" ry="1.1" fill="#222"/>
<rect x="175.00" y="354.74" width="66.60" height="4.80" fill="#c4c4c8"/>
<line x1="241.60" y1="357.14" x2="247.00" y2="357.14" stroke="#111" stroke-width="1.1"/>
<line x1="246.40" y1="355.54" x2="246.40" y2="358.74" stroke="#000" stroke-width="1.3"/>
<ellipse cx="250.80" cy="357.14" rx="1.05" ry="1.1" fill="#222"/>
<rect x="175.00" y="362.94" width="95.80" height="4.90" fill="#46546a"/>
<line x1="270.80" y1="365.39" x2="299.20" y2="365.39" stroke="#111" stroke-width="1.1"/>
<line x1="298.60" y1="363.79" x2="298.60" y2="366.99" stroke="#000" stroke-width="1.3"/>
<rect x="175.00" y="367.84" width="54.70" height="4.80" fill="#c4c4c8"/>
<line x1="229.70" y1="370.24" x2="236.40" y2="370.24" stroke="#111" stroke-width="1.1"/>
<line x1="235.80" y1="368.64" x2="235.80" y2="371.84" stroke="#000" stroke-width="1.3"/>
<ellipse cx="242.20" cy="370.24" rx="1.05" ry="1.1" fill="#222"/>
<text x="176.80" y="383.04" font-size="7.8" text-anchor="start" textLength="71.3" lengthAdjust="spacingAndGlyphs">no conserved runx motif</text>
<rect x="420.30" y="314.79" width="20.20" height="11.90" fill="#3c4f8c"/>
<rect x="440.50" y="314.79" width="19.80" height="11.90" fill="#3c4f8c"/>
<rect x="420.30" y="326.69" width="20.20" height="11.90" fill="#2fb47c"/>
<rect x="440.50" y="326.69" width="19.80" height="11.90" fill="#fde725"/>
<rect x="420.30" y="338.59" width="20.20" height="11.90" fill="#3c4f8c"/>
<rect x="440.50" y="338.59" width="19.80" height="11.90" fill="#3c4f8c"/>
<rect x="420.30" y="350.49" width="20.20" height="11.90" fill="#2e6f8e"/>
<rect x="440.50" y="350.49" width="19.80" height="11.90" fill="#21908d"/>
<rect x="420.30" y="362.39" width="20.20" height="11.90" fill="#20a386"/>
<rect x="440.50" y="362.39" width="19.80" height="11.90" fill="#2db27d"/>
<rect x="420.30" y="374.29" width="20.20" height="11.90" fill="#fff"/>
<path d="M420.30 374.29L440.50 386.19M440.50 374.29L420.30 386.19" stroke="#111" stroke-width="1.25"/>
<rect x="440.50" y="374.29" width="19.80" height="11.90" fill="#fff"/>
<path d="M440.50 374.29L460.30 386.19M460.30 374.29L440.50 386.19" stroke="#111" stroke-width="1.25"/>
<line x1="420.30" y1="314.79" x2="460.30" y2="314.79" stroke="#111" stroke-width="1"/>
<line x1="420.30" y1="326.69" x2="460.30" y2="326.69" stroke="#111" stroke-width="1"/>
<line x1="420.30" y1="338.59" x2="460.30" y2="338.59" stroke="#111" stroke-width="1"/>
<line x1="420.30" y1="350.49" x2="460.30" y2="350.49" stroke="#111" stroke-width="1"/>
<line x1="420.30" y1="362.39" x2="460.30" y2="362.39" stroke="#111" stroke-width="1"/>
<line x1="420.30" y1="374.29" x2="460.30" y2="374.29" stroke="#111" stroke-width="1"/>
<line x1="420.30" y1="386.19" x2="460.30" y2="386.19" stroke="#111" stroke-width="1"/>
<line x1="420.30" y1="314.29" x2="420.30" y2="386.69" stroke="#111" stroke-width="1"/>
<line x1="440.50" y1="314.29" x2="440.50" y2="386.69" stroke="#111" stroke-width="1"/>
<line x1="460.30" y1="314.29" x2="460.30" y2="386.69" stroke="#111" stroke-width="1"/>
<rect x="420.30" y="314.79" width="40.00" height="71.40" fill="none" stroke="#000" stroke-width="1.3"/>
<text x="383.20" y="323.29" font-size="9.9" text-anchor="start" textLength="21.5" lengthAdjust="spacingAndGlyphs">empty</text>
<text x="383.20" y="335.19" font-size="9.9" text-anchor="start" textLength="10.8" lengthAdjust="spacingAndGlyphs">WT</text>
<text x="383.20" y="347.09" font-size="9.9" text-anchor="start" textLength="17.8" lengthAdjust="spacingAndGlyphs">ΔETS</text>
<text x="383.20" y="358.99" font-size="9.9" text-anchor="start" textLength="22.8" lengthAdjust="spacingAndGlyphs">ΔGATA</text>
<text x="383.20" y="370.89" font-size="9.9" text-anchor="start" textLength="23.7" lengthAdjust="spacingAndGlyphs">ΔE-box</text>
<text x="383.20" y="382.79" font-size="9.9" text-anchor="start" textLength="25.4" lengthAdjust="spacingAndGlyphs">ΔRUNX</text>
<text x="422.50" y="393.99" font-size="8.6" text-anchor="start" textLength="14.8" lengthAdjust="spacingAndGlyphs">KG-1</text>
<text x="443.40" y="393.99" font-size="8.6" text-anchor="start" textLength="15.3" lengthAdjust="spacingAndGlyphs">ME-1</text>
<rect x="470.3" y="325.29" width="7.8" height="48.9" fill="url(#vir)"/>
<text x="479.70" y="327.99" font-size="6.6" text-anchor="start" textLength="8.0" lengthAdjust="spacingAndGlyphs">21</text>
<text x="479.70" y="352.44" font-size="6.6" text-anchor="start" textLength="8.0" lengthAdjust="spacingAndGlyphs">11</text>
<text x="479.70" y="376.89" font-size="6.6" text-anchor="start" textLength="4.0" lengthAdjust="spacingAndGlyphs">0</text>
<text transform="translate(510.4 350.09) rotate(-90)" x="0" y="0" font-size="12.2" style="stroke-width:0.35px" text-anchor="middle" textLength="44.30" lengthAdjust="spacingAndGlyphs">ERG+85</text>
<rect x="8.65" y="402.92" width="356.35" height="90.6" fill="none" stroke="#000" stroke-width="1.5"/>
<rect x="373.65" y="402.92" width="139.15" height="90.6" fill="none" stroke="#000" stroke-width="1.5"/>
<text transform="translate(22.5 448.02) rotate(-90)" x="0" y="0" font-size="12" style="stroke-width:0.35px" text-anchor="middle" textLength="60.30" lengthAdjust="spacingAndGlyphs">GATA2-117</text>
<text x="31.00" y="415.42" font-size="9.9" text-anchor="start" textLength="21.2" lengthAdjust="spacingAndGlyphs">empty</text>
<text x="31.00" y="428.12" font-size="9.9" text-anchor="start" textLength="10.6" lengthAdjust="spacingAndGlyphs">WT</text>
<text x="31.00" y="440.82" font-size="9.9" text-anchor="start" textLength="18.0" lengthAdjust="spacingAndGlyphs">ΔETS</text>
<text x="31.00" y="453.52" font-size="9.9" text-anchor="start" textLength="23.2" lengthAdjust="spacingAndGlyphs">ΔGATA</text>
<text x="31.00" y="466.22" font-size="9.9" text-anchor="start" textLength="24.2" lengthAdjust="spacingAndGlyphs">ΔE-box</text>
<text x="31.00" y="478.92" font-size="9.9" text-anchor="start" textLength="25.8" lengthAdjust="spacingAndGlyphs">ΔRUNX</text>
<line x1="68" y1="410.77" x2="171.6" y2="410.77" stroke="#000" stroke-width="1.5"/>
<rect x="141.90" y="407.02" width="7.00" height="7.5" fill="#fff" stroke="#111" stroke-width="1.5"/>
<text x="145.40" y="413.37" font-size="7.4" text-anchor="middle" textLength="4.0" lengthAdjust="spacingAndGlyphs" fill="#555" style="stroke:#555;stroke-width:0.15px">P</text>
<rect x="152.00" y="407.02" width="13.50" height="7.5" fill="#fff" stroke="#111" stroke-width="1.5"/>
<text x="158.95" y="413.37" font-size="7.4" text-anchor="middle" textLength="10.4" lengthAdjust="spacingAndGlyphs" fill="#555" style="stroke:#555;stroke-width:0.15px">luc</text>
<line x1="68" y1="423.87" x2="171.6" y2="423.87" stroke="#000" stroke-width="1.5"/>
<ellipse cx="73.00" cy="423.87" rx="2.35" ry="2.85" fill="#90c96a"/>
<ellipse cx="77.45" cy="423.87" rx="2.35" ry="2.85" fill="#6d97d4"/>
<ellipse cx="81.91" cy="423.87" rx="2.35" ry="2.85" fill="#f6953b"/>
<ellipse cx="86.36" cy="423.87" rx="2.35" ry="2.85" fill="#90c96a"/>
<ellipse cx="90.82" cy="423.87" rx="2.35" ry="2.85" fill="#90c96a"/>
<ellipse cx="95.28" cy="423.87" rx="2.35" ry="2.85" fill="#90c96a"/>
<ellipse cx="99.73" cy="423.87" rx="2.35" ry="2.85" fill="#8d69b2"/>
<ellipse cx="104.19" cy="423.87" rx="2.35" ry="2.85" fill="#90c96a"/>
<ellipse cx="108.64" cy="423.87" rx="2.35" ry="2.85" fill="#6d97d4"/>
<ellipse cx="113.09" cy="423.87" rx="2.35" ry="2.85" fill="#90c96a"/>
<ellipse cx="117.55" cy="423.87" rx="2.35" ry="2.85" fill="#90c96a"/>
<ellipse cx="122.00" cy="423.87" rx="2.35" ry="2.85" fill="#8d69b2"/>
<ellipse cx="126.46" cy="423.87" rx="2.35" ry="2.85" fill="#6d97d4"/>
<ellipse cx="130.91" cy="423.87" rx="2.35" ry="2.85" fill="#8d69b2"/>
<ellipse cx="135.37" cy="423.87" rx="2.35" ry="2.85" fill="#90c96a"/>
<rect x="141.90" y="420.12" width="7.00" height="7.5" fill="#fff" stroke="#111" stroke-width="1.5"/>
<text x="145.40" y="426.47" font-size="7.4" text-anchor="middle" textLength="4.0" lengthAdjust="spacingAndGlyphs" fill="#555" style="stroke:#555;stroke-width:0.15px">P</text>
<rect x="152.00" y="420.12" width="13.50" height="7.5" fill="#fff" stroke="#111" stroke-width="1.5"/>
<text x="158.95" y="426.47" font-size="7.4" text-anchor="middle" textLength="10.4" lengthAdjust="spacingAndGlyphs" fill="#555" style="stroke:#555;stroke-width:0.15px">luc</text>
<line x1="68" y1="436.97" x2="171.6" y2="436.97" stroke="#000" stroke-width="1.5"/>
<ellipse cx="77.45" cy="436.97" rx="2.35" ry="2.85" fill="#6d97d4"/>
<ellipse cx="81.91" cy="436.97" rx="2.35" ry="2.85" fill="#f6953b"/>
<ellipse cx="99.73" cy="436.97" rx="2.35" ry="2.85" fill="#8d69b2"/>
<ellipse cx="108.64" cy="436.97" rx="2.35" ry="2.85" fill="#6d97d4"/>
<ellipse cx="122.00" cy="436.97" rx="2.35" ry="2.85" fill="#8d69b2"/>
<ellipse cx="126.46" cy="436.97" rx="2.35" ry="2.85" fill="#6d97d4"/>
<ellipse cx="130.91" cy="436.97" rx="2.35" ry="2.85" fill="#8d69b2"/>
<rect x="141.90" y="433.22" width="7.00" height="7.5" fill="#fff" stroke="#111" stroke-width="1.5"/>
<text x="145.40" y="439.57" font-size="7.4" text-anchor="middle" textLength="4.0" lengthAdjust="spacingAndGlyphs" fill="#555" style="stroke:#555;stroke-width:0.15px">P</text>
<rect x="152.00" y="433.22" width="13.50" height="7.5" fill="#fff" stroke="#111" stroke-width="1.5"/>
<text x="158.95" y="439.57" font-size="7.4" text-anchor="middle" textLength="10.4" lengthAdjust="spacingAndGlyphs" fill="#555" style="stroke:#555;stroke-width:0.15px">luc</text>
<line x1="68" y1="450.07" x2="171.6" y2="450.07" stroke="#000" stroke-width="1.5"/>
<ellipse cx="73.00" cy="450.07" rx="2.35" ry="2.85" fill="#90c96a"/>
<ellipse cx="81.91" cy="450.07" rx="2.35" ry="2.85" fill="#f6953b"/>
<ellipse cx="86.36" cy="450.07" rx="2.35" ry="2.85" fill="#90c96a"/>
<ellipse cx="90.82" cy="450.07" rx="2.35" ry="2.85" fill="#90c96a"/>
<ellipse cx="95.28" cy="450.07" rx="2.35" ry="2.85" fill="#90c96a"/>
<ellipse cx="99.73" cy="450.07" rx="2.35" ry="2.85" fill="#8d69b2"/>
<ellipse cx="104.19" cy="450.07" rx="2.35" ry="2.85" fill="#90c96a"/>
<ellipse cx="113.09" cy="450.07" rx="2.35" ry="2.85" fill="#90c96a"/>
<ellipse cx="117.55" cy="450.07" rx="2.35" ry="2.85" fill="#90c96a"/>
<ellipse cx="122.00" cy="450.07" rx="2.35" ry="2.85" fill="#8d69b2"/>
<ellipse cx="130.91" cy="450.07" rx="2.35" ry="2.85" fill="#8d69b2"/>
<ellipse cx="135.37" cy="450.07" rx="2.35" ry="2.85" fill="#90c96a"/>
<rect x="141.90" y="446.32" width="7.00" height="7.5" fill="#fff" stroke="#111" stroke-width="1.5"/>
<text x="145.40" y="452.67" font-size="7.4" text-anchor="middle" textLength="4.0" lengthAdjust="spacingAndGlyphs" fill="#555" style="stroke:#555;stroke-width:0.15px">P</text>
<rect x="152.00" y="446.32" width="13.50" height="7.5" fill="#fff" stroke="#111" stroke-width="1.5"/>
<text x="158.95" y="452.67" font-size="7.4" text-anchor="middle" textLength="10.4" lengthAdjust="spacingAndGlyphs" fill="#555" style="stroke:#555;stroke-width:0.15px">luc</text>
<line x1="68" y1="463.17" x2="171.6" y2="463.17" stroke="#000" stroke-width="1.5"/>
<ellipse cx="73.00" cy="463.17" rx="2.35" ry="2.85" fill="#90c96a"/>
<ellipse cx="77.45" cy="463.17" rx="2.35" ry="2.85" fill="#6d97d4"/>
<ellipse cx="86.36" cy="463.17" rx="2.35" ry="2.85" fill="#90c96a"/>
<ellipse cx="90.82" cy="463.17" rx="2.35" ry="2.85" fill="#90c96a"/>
<ellipse cx="95.28" cy="463.17" rx="2.35" ry="2.85" fill="#90c96a"/>
<ellipse cx="99.73" cy="463.17" rx="2.35" ry="2.85" fill="#8d69b2"/>
<ellipse cx="104.19" cy="463.17" rx="2.35" ry="2.85" fill="#90c96a"/>
<ellipse cx="108.64" cy="463.17" rx="2.35" ry="2.85" fill="#6d97d4"/>
<ellipse cx="113.09" cy="463.17" rx="2.35" ry="2.85" fill="#90c96a"/>
<ellipse cx="117.55" cy="463.17" rx="2.35" ry="2.85" fill="#90c96a"/>
<ellipse cx="122.00" cy="463.17" rx="2.35" ry="2.85" fill="#8d69b2"/>
<ellipse cx="126.46" cy="463.17" rx="2.35" ry="2.85" fill="#6d97d4"/>
<ellipse cx="130.91" cy="463.17" rx="2.35" ry="2.85" fill="#8d69b2"/>
<ellipse cx="135.37" cy="463.17" rx="2.35" ry="2.85" fill="#90c96a"/>
<rect x="141.90" y="459.42" width="7.00" height="7.5" fill="#fff" stroke="#111" stroke-width="1.5"/>
<text x="145.40" y="465.77" font-size="7.4" text-anchor="middle" textLength="4.0" lengthAdjust="spacingAndGlyphs" fill="#555" style="stroke:#555;stroke-width:0.15px">P</text>
<rect x="152.00" y="459.42" width="13.50" height="7.5" fill="#fff" stroke="#111" stroke-width="1.5"/>
<text x="158.95" y="465.77" font-size="7.4" text-anchor="middle" textLength="10.4" lengthAdjust="spacingAndGlyphs" fill="#555" style="stroke:#555;stroke-width:0.15px">luc</text>
<line x1="68" y1="476.27" x2="171.6" y2="476.27" stroke="#000" stroke-width="1.5"/>
<ellipse cx="73.00" cy="476.27" rx="2.35" ry="2.85" fill="#90c96a"/>
<ellipse cx="77.45" cy="476.27" rx="2.35" ry="2.85" fill="#6d97d4"/>
<ellipse cx="81.91" cy="476.27" rx="2.35" ry="2.85" fill="#f6953b"/>
<ellipse cx="86.36" cy="476.27" rx="2.35" ry="2.85" fill="#90c96a"/>
<ellipse cx="90.82" cy="476.27" rx="2.35" ry="2.85" fill="#90c96a"/>
<ellipse cx="95.28" cy="476.27" rx="2.35" ry="2.85" fill="#90c96a"/>
<ellipse cx="104.19" cy="476.27" rx="2.35" ry="2.85" fill="#90c96a"/>
<ellipse cx="108.64" cy="476.27" rx="2.35" ry="2.85" fill="#6d97d4"/>
<ellipse cx="113.09" cy="476.27" rx="2.35" ry="2.85" fill="#90c96a"/>
<ellipse cx="117.55" cy="476.27" rx="2.35" ry="2.85" fill="#90c96a"/>
<ellipse cx="126.46" cy="476.27" rx="2.35" ry="2.85" fill="#6d97d4"/>
<ellipse cx="135.37" cy="476.27" rx="2.35" ry="2.85" fill="#90c96a"/>
<rect x="141.90" y="472.52" width="7.00" height="7.5" fill="#fff" stroke="#111" stroke-width="1.5"/>
<text x="145.40" y="478.87" font-size="7.4" text-anchor="middle" textLength="4.0" lengthAdjust="spacingAndGlyphs" fill="#555" style="stroke:#555;stroke-width:0.15px">P</text>
<rect x="152.00" y="472.52" width="13.50" height="7.5" fill="#fff" stroke="#111" stroke-width="1.5"/>
<text x="158.95" y="478.87" font-size="7.4" text-anchor="middle" textLength="10.4" lengthAdjust="spacingAndGlyphs" fill="#555" style="stroke:#555;stroke-width:0.15px">luc</text>
<line x1="174.5" y1="404.52" x2="174.5" y2="485.22" stroke="#000" stroke-width="1.4"/>
<line x1="173.9" y1="482.62" x2="361.9" y2="482.62" stroke="#000" stroke-width="1.3"/>
<line x1="221.25" y1="482.62" x2="221.25" y2="485.02" stroke="#111" stroke-width="1"/>
<line x1="268.00" y1="482.62" x2="268.00" y2="485.02" stroke="#111" stroke-width="1"/>
<line x1="314.75" y1="482.62" x2="314.75" y2="485.02" stroke="#111" stroke-width="1"/>
<line x1="361.50" y1="482.62" x2="361.50" y2="485.02" stroke="#111" stroke-width="1"/>
<text x="177.30" y="490.92" font-size="7" text-anchor="middle" textLength="3.6" lengthAdjust="spacingAndGlyphs">0</text>
<text x="268.00" y="490.92" font-size="7" text-anchor="middle" textLength="8.2" lengthAdjust="spacingAndGlyphs">30</text>
<text x="360.60" y="490.92" font-size="7" text-anchor="end" textLength="8.2" lengthAdjust="spacingAndGlyphs">60</text>
<rect x="333.1" y="405.42" width="6.6" height="6.5" fill="#46546a"/>
<rect x="333.1" y="415.12" width="6.6" height="6.4" fill="#c4c4c8"/>
<text x="343.00" y="411.42" font-size="7.8" text-anchor="start" textLength="16.1" lengthAdjust="spacingAndGlyphs">KG-1</text>
<text x="343.00" y="420.92" font-size="7.8" text-anchor="start" textLength="17.2" lengthAdjust="spacingAndGlyphs">ME-1</text>
<rect x="175.00" y="406.37" width="3.70" height="4.90" fill="#46546a"/>
<rect x="175.00" y="411.27" width="2.80" height="4.80" fill="#c4c4c8"/>
<rect x="175.00" y="419.47" width="93.50" height="4.90" fill="#46546a"/>
<line x1="268.50" y1="421.92" x2="273.10" y2="421.92" stroke="#111" stroke-width="1.1"/>
<line x1="272.50" y1="420.32" x2="272.50" y2="423.52" stroke="#000" stroke-width="1.3"/>
<rect x="175.00" y="424.37" width="137.80" height="4.80" fill="#c4c4c8"/>
<line x1="312.80" y1="426.77" x2="333.10" y2="426.77" stroke="#111" stroke-width="1.1"/>
<line x1="332.50" y1="425.17" x2="332.50" y2="428.37" stroke="#000" stroke-width="1.3"/>
<rect x="175.00" y="432.57" width="4.30" height="4.90" fill="#46546a"/>
<ellipse cx="184.30" cy="435.02" rx="1.05" ry="1.1" fill="#222"/>
<ellipse cx="187.50" cy="435.02" rx="1.05" ry="1.1" fill="#222"/>
<ellipse cx="190.70" cy="435.02" rx="1.05" ry="1.1" fill="#222"/>
<rect x="175.00" y="437.47" width="2.60" height="4.80" fill="#c4c4c8"/>
<ellipse cx="183.60" cy="439.87" rx="1.05" ry="1.1" fill="#222"/>
<ellipse cx="186.80" cy="439.87" rx="1.05" ry="1.1" fill="#222"/>
<rect x="175.00" y="445.67" width="17.20" height="4.90" fill="#46546a"/>
<line x1="192.20" y1="448.12" x2="193.50" y2="448.12" stroke="#111" stroke-width="1.1"/>
<line x1="192.90" y1="446.52" x2="192.90" y2="449.72" stroke="#000" stroke-width="1.3"/>
<ellipse cx="201.80" cy="448.12" rx="1.05" ry="1.1" fill="#222"/>
<ellipse cx="205.00" cy="448.12" rx="1.05" ry="1.1" fill="#222"/>
<ellipse cx="208.20" cy="448.12" rx="1.05" ry="1.1" fill="#222"/>
<rect x="175.00" y="450.57" width="17.60" height="4.80" fill="#c4c4c8"/>
<line x1="192.60" y1="452.97" x2="194.50" y2="452.97" stroke="#111" stroke-width="1.1"/>
<line x1="193.90" y1="451.37" x2="193.90" y2="454.57" stroke="#000" stroke-width="1.3"/>
<ellipse cx="201.80" cy="452.97" rx="1.05" ry="1.1" fill="#222"/>
<ellipse cx="205.00" cy="452.97" rx="1.05" ry="1.1" fill="#222"/>
<rect x="175.00" y="458.77" width="40.80" height="4.90" fill="#46546a"/>
<line x1="215.80" y1="461.22" x2="226.80" y2="461.22" stroke="#111" stroke-width="1.1"/>
<line x1="226.20" y1="459.62" x2="226.20" y2="462.82" stroke="#000" stroke-width="1.3"/>
<ellipse cx="232.60" cy="461.22" rx="1.05" ry="1.1" fill="#222"/>
<rect x="175.00" y="463.67" width="111.30" height="4.80" fill="#c4c4c8"/>
<line x1="286.30" y1="466.07" x2="299.70" y2="466.07" stroke="#111" stroke-width="1.1"/>
<line x1="299.10" y1="464.47" x2="299.10" y2="467.67" stroke="#000" stroke-width="1.3"/>
<rect x="175.00" y="471.87" width="6.60" height="4.90" fill="#46546a"/>
<line x1="181.60" y1="474.32" x2="186.40" y2="474.32" stroke="#111" stroke-width="1.1"/>
<line x1="185.80" y1="472.72" x2="185.80" y2="475.92" stroke="#000" stroke-width="1.3"/>
<ellipse cx="192.60" cy="474.32" rx="1.05" ry="1.1" fill="#222"/>
<ellipse cx="195.80" cy="474.32" rx="1.05" ry="1.1" fill="#222"/>
<ellipse cx="199.00" cy="474.32" rx="1.05" ry="1.1" fill="#222"/>
<rect x="175.00" y="476.77" width="11.00" height="4.80" fill="#c4c4c8"/>
<ellipse cx="191.80" cy="479.17" rx="1.05" ry="1.1" fill="#222"/>
<ellipse cx="195.00" cy="479.17" rx="1.05" ry="1.1" fill="#222"/>
<rect x="420.30" y="410.62" width="20.20" height="11.90" fill="#3c4f8c"/>
<rect x="440.50" y="410.62" width="19.80" height="11.90" fill="#3c4f8c"/>
<rect x="420.30" y="422.52" width="20.20" height="11.90" fill="#fde725"/>
<rect x="440.50" y="422.52" width="19.80" height="11.90" fill="#7ec653"/>
<rect x="420.30" y="434.42" width="20.20" height="11.90" fill="#3c4f8c"/>
<rect x="440.50" y="434.42" width="19.80" height="11.90" fill="#3c4f8c"/>
<rect x="420.30" y="446.32" width="20.20" height="11.90" fill="#2e6c8e"/>
<rect x="440.50" y="446.32" width="19.80" height="11.90" fill="#33638d"/>
<rect x="420.30" y="458.22" width="20.20" height="11.90" fill="#2fb37c"/>
<rect x="440.50" y="458.22" width="19.80" height="11.90" fill="#7dc654"/>
<rect x="420.30" y="470.12" width="20.20" height="11.90" fill="#37598c"/>
<rect x="440.50" y="470.12" width="19.80" height="11.90" fill="#37598c"/>
<line x1="420.30" y1="410.62" x2="460.30" y2="410.62" stroke="#111" stroke-width="1"/>
<line x1="420.30" y1="422.52" x2="460.30" y2="422.52" stroke="#111" stroke-width="1"/>
<line x1="420.30" y1="434.42" x2="460.30" y2="434.42" stroke="#111" stroke-width="1"/>
<line x1="420.30" y1="446.32" x2="460.30" y2="446.32" stroke="#111" stroke-width="1"/>
<line x1="420.30" y1="458.22" x2="460.30" y2="458.22" stroke="#111" stroke-width="1"/>
<line x1="420.30" y1="470.12" x2="460.30" y2="470.12" stroke="#111" stroke-width="1"/>
<line x1="420.30" y1="482.02" x2="460.30" y2="482.02" stroke="#111" stroke-width="1"/>
<line x1="420.30" y1="410.12" x2="420.30" y2="482.52" stroke="#111" stroke-width="1"/>
<line x1="440.50" y1="410.12" x2="440.50" y2="482.52" stroke="#111" stroke-width="1"/>
<line x1="460.30" y1="410.12" x2="460.30" y2="482.52" stroke="#111" stroke-width="1"/>
<rect x="420.30" y="410.62" width="40.00" height="71.40" fill="none" stroke="#000" stroke-width="1.3"/>
<text x="383.20" y="419.12" font-size="9.9" text-anchor="start" textLength="21.5" lengthAdjust="spacingAndGlyphs">empty</text>
<text x="383.20" y="431.02" font-size="9.9" text-anchor="start" textLength="10.8" lengthAdjust="spacingAndGlyphs">WT</text>
<text x="383.20" y="442.92" font-size="9.9" text-anchor="start" textLength="17.8" lengthAdjust="spacingAndGlyphs">ΔETS</text>
<text x="383.20" y="454.82" font-size="9.9" text-anchor="start" textLength="22.8" lengthAdjust="spacingAndGlyphs">ΔGATA</text>
<text x="383.20" y="466.72" font-size="9.9" text-anchor="start" textLength="23.7" lengthAdjust="spacingAndGlyphs">ΔE-box</text>
<text x="383.20" y="478.62" font-size="9.9" text-anchor="start" textLength="25.4" lengthAdjust="spacingAndGlyphs">ΔRUNX</text>
<text x="422.50" y="489.82" font-size="8.6" text-anchor="start" textLength="14.8" lengthAdjust="spacingAndGlyphs">KG-1</text>
<text x="443.40" y="489.82" font-size="8.6" text-anchor="start" textLength="15.3" lengthAdjust="spacingAndGlyphs">ME-1</text>
<rect x="470.3" y="421.12" width="7.8" height="48.9" fill="url(#vir)"/>
<text x="479.70" y="423.82" font-size="6.6" text-anchor="start" textLength="8.0" lengthAdjust="spacingAndGlyphs">50</text>
<text x="479.70" y="448.27" font-size="6.6" text-anchor="start" textLength="8.0" lengthAdjust="spacingAndGlyphs">25</text>
<text x="479.70" y="472.72" font-size="6.6" text-anchor="start" textLength="4.0" lengthAdjust="spacingAndGlyphs">0</text>
<text transform="translate(510.4 445.92) rotate(-90)" x="0" y="0" font-size="12.2" style="stroke-width:0.35px" text-anchor="middle" textLength="60.50" lengthAdjust="spacingAndGlyphs">GATA2-117</text>
<rect x="8.65" y="498.75" width="356.35" height="90.6" fill="none" stroke="#000" stroke-width="1.5"/>
<rect x="373.65" y="498.75" width="139.15" height="90.6" fill="none" stroke="#000" stroke-width="1.5"/>
<text transform="translate(22.5 543.85) rotate(-90)" x="0" y="0" font-size="12" style="stroke-width:0.35px" text-anchor="middle" textLength="60.70" lengthAdjust="spacingAndGlyphs">GATA2+3.5</text>
<text x="31.00" y="511.25" font-size="9.9" text-anchor="start" textLength="21.2" lengthAdjust="spacingAndGlyphs">empty</text>
<text x="31.00" y="523.95" font-size="9.9" text-anchor="start" textLength="10.6" lengthAdjust="spacingAndGlyphs">WT</text>
<text x="31.00" y="536.65" font-size="9.9" text-anchor="start" textLength="18.0" lengthAdjust="spacingAndGlyphs">ΔETS</text>
<text x="31.00" y="549.35" font-size="9.9" text-anchor="start" textLength="23.2" lengthAdjust="spacingAndGlyphs">ΔGATA</text>
<text x="31.00" y="562.05" font-size="9.9" text-anchor="start" textLength="24.2" lengthAdjust="spacingAndGlyphs">ΔE-box</text>
<text x="31.00" y="574.75" font-size="9.9" text-anchor="start" textLength="25.8" lengthAdjust="spacingAndGlyphs">ΔRUNX</text>
<line x1="68" y1="506.60" x2="171.6" y2="506.60" stroke="#000" stroke-width="1.5"/>
<rect x="74.80" y="502.85" width="7.80" height="7.5" fill="#fff" stroke="#111" stroke-width="1.5"/>
<text x="78.70" y="509.20" font-size="7.4" text-anchor="middle" textLength="4.0" lengthAdjust="spacingAndGlyphs" fill="#555" style="stroke:#555;stroke-width:0.15px">P</text>
<rect x="85.50" y="502.85" width="13.40" height="7.5" fill="#fff" stroke="#111" stroke-width="1.5"/>
<text x="92.40" y="509.20" font-size="7.4" text-anchor="middle" textLength="10.4" lengthAdjust="spacingAndGlyphs" fill="#555" style="stroke:#555;stroke-width:0.15px">luc</text>
<line x1="68" y1="519.70" x2="171.6" y2="519.70" stroke="#000" stroke-width="1.5"/>
<ellipse cx="113.50" cy="519.70" rx="2.35" ry="2.85" fill="#90c96a"/>
<ellipse cx="117.95" cy="519.70" rx="2.35" ry="2.85" fill="#f6953b"/>
<ellipse cx="122.41" cy="519.70" rx="2.35" ry="2.85" fill="#90c96a"/>
<ellipse cx="126.86" cy="519.70" rx="2.35" ry="2.85" fill="#90c96a"/>
<ellipse cx="131.32" cy="519.70" rx="2.35" ry="2.85" fill="#6d97d4"/>
<ellipse cx="135.78" cy="519.70" rx="2.35" ry="2.85" fill="#90c96a"/>
<ellipse cx="140.23" cy="519.70" rx="2.35" ry="2.85" fill="#f6953b"/>
<ellipse cx="144.69" cy="519.70" rx="2.35" ry="2.85" fill="#6d97d4"/>
<ellipse cx="149.14" cy="519.70" rx="2.35" ry="2.85" fill="#90c96a"/>
<ellipse cx="153.59" cy="519.70" rx="2.35" ry="2.85" fill="#6d97d4"/>
<ellipse cx="158.05" cy="519.70" rx="2.35" ry="2.85" fill="#90c96a"/>
<rect x="74.80" y="515.95" width="7.80" height="7.5" fill="#fff" stroke="#111" stroke-width="1.5"/>
<text x="78.70" y="522.30" font-size="7.4" text-anchor="middle" textLength="4.0" lengthAdjust="spacingAndGlyphs" fill="#555" style="stroke:#555;stroke-width:0.15px">P</text>
<rect x="85.50" y="515.95" width="13.40" height="7.5" fill="#fff" stroke="#111" stroke-width="1.5"/>
<text x="92.40" y="522.30" font-size="7.4" text-anchor="middle" textLength="10.4" lengthAdjust="spacingAndGlyphs" fill="#555" style="stroke:#555;stroke-width:0.15px">luc</text>
<line x1="68" y1="532.80" x2="171.6" y2="532.80" stroke="#000" stroke-width="1.5"/>
<ellipse cx="117.95" cy="532.80" rx="2.35" ry="2.85" fill="#f6953b"/>
<ellipse cx="131.32" cy="532.80" rx="2.35" ry="2.85" fill="#6d97d4"/>
<ellipse cx="140.23" cy="532.80" rx="2.35" ry="2.85" fill="#f6953b"/>
<ellipse cx="144.69" cy="532.80" rx="2.35" ry="2.85" fill="#6d97d4"/>
<ellipse cx="153.59" cy="532.80" rx="2.35" ry="2.85" fill="#6d97d4"/>
<rect x="74.80" y="529.05" width="7.80" height="7.5" fill="#fff" stroke="#111" stroke-width="1.5"/>
<text x="78.70" y="535.40" font-size="7.4" text-anchor="middle" textLength="4.0" lengthAdjust="spacingAndGlyphs" fill="#555" style="stroke:#555;stroke-width:0.15px">P</text>
<rect x="85.50" y="529.05" width="13.40" height="7.5" fill="#fff" stroke="#111" stroke-width="1.5"/>
<text x="92.40" y="535.40" font-size="7.4" text-anchor="middle" textLength="10.4" lengthAdjust="spacingAndGlyphs" fill="#555" style="stroke:#555;stroke-width:0.15px">luc</text>
<line x1="68" y1="545.90" x2="171.6" y2="545.90" stroke="#000" stroke-width="1.5"/>
<ellipse cx="113.50" cy="545.90" rx="2.35" ry="2.85" fill="#90c96a"/>
<ellipse cx="117.95" cy="545.90" rx="2.35" ry="2.85" fill="#f6953b"/>
<ellipse cx="122.41" cy="545.90" rx="2.35" ry="2.85" fill="#90c96a"/>
<ellipse cx="126.86" cy="545.90" rx="2.35" ry="2.85" fill="#90c96a"/>
<ellipse cx="135.78" cy="545.90" rx="2.35" ry="2.85" fill="#90c96a"/>
<ellipse cx="140.23" cy="545.90" rx="2.35" ry="2.85" fill="#f6953b"/>
<ellipse cx="149.14" cy="545.90" rx="2.35" ry="2.85" fill="#90c96a"/>
<ellipse cx="158.05" cy="545.90" rx="2.35" ry="2.85" fill="#90c96a"/>
<rect x="74.80" y="542.15" width="7.80" height="7.5" fill="#fff" stroke="#111" stroke-width="1.5"/>
<text x="78.70" y="548.50" font-size="7.4" text-anchor="middle" textLength="4.0" lengthAdjust="spacingAndGlyphs" fill="#555" style="stroke:#555;stroke-width:0.15px">P</text>
<rect x="85.50" y="542.15" width="13.40" height="7.5" fill="#fff" stroke="#111" stroke-width="1.5"/>
<text x="92.40" y="548.50" font-size="7.4" text-anchor="middle" textLength="10.4" lengthAdjust="spacingAndGlyphs" fill="#555" style="stroke:#555;stroke-width:0.15px">luc</text>
<line x1="68" y1="559.00" x2="171.6" y2="559.00" stroke="#000" stroke-width="1.5"/>
<ellipse cx="113.50" cy="559.00" rx="2.35" ry="2.85" fill="#90c96a"/>
<ellipse cx="122.41" cy="559.00" rx="2.35" ry="2.85" fill="#90c96a"/>
<ellipse cx="126.86" cy="559.00" rx="2.35" ry="2.85" fill="#90c96a"/>
<ellipse cx="131.32" cy="559.00" rx="2.35" ry="2.85" fill="#6d97d4"/>
<ellipse cx="135.78" cy="559.00" rx="2.35" ry="2.85" fill="#90c96a"/>
<ellipse cx="144.69" cy="559.00" rx="2.35" ry="2.85" fill="#6d97d4"/>
<ellipse cx="149.14" cy="559.00" rx="2.35" ry="2.85" fill="#90c96a"/>
<ellipse cx="153.59" cy="559.00" rx="2.35" ry="2.85" fill="#6d97d4"/>
<ellipse cx="158.05" cy="559.00" rx="2.35" ry="2.85" fill="#90c96a"/>
<rect x="74.80" y="555.25" width="7.80" height="7.5" fill="#fff" stroke="#111" stroke-width="1.5"/>
<text x="78.70" y="561.60" font-size="7.4" text-anchor="middle" textLength="4.0" lengthAdjust="spacingAndGlyphs" fill="#555" style="stroke:#555;stroke-width:0.15px">P</text>
<rect x="85.50" y="555.25" width="13.40" height="7.5" fill="#fff" stroke="#111" stroke-width="1.5"/>
<text x="92.40" y="561.60" font-size="7.4" text-anchor="middle" textLength="10.4" lengthAdjust="spacingAndGlyphs" fill="#555" style="stroke:#555;stroke-width:0.15px">luc</text>
<line x1="174.5" y1="500.35" x2="174.5" y2="581.05" stroke="#000" stroke-width="1.4"/>
<line x1="173.9" y1="578.45" x2="361.9" y2="578.45" stroke="#000" stroke-width="1.3"/>
<line x1="221.25" y1="578.45" x2="221.25" y2="580.85" stroke="#111" stroke-width="1"/>
<line x1="268.00" y1="578.45" x2="268.00" y2="580.85" stroke="#111" stroke-width="1"/>
<line x1="314.75" y1="578.45" x2="314.75" y2="580.85" stroke="#111" stroke-width="1"/>
<line x1="361.50" y1="578.45" x2="361.50" y2="580.85" stroke="#111" stroke-width="1"/>
<text x="177.30" y="586.75" font-size="7" text-anchor="middle" textLength="3.6" lengthAdjust="spacingAndGlyphs">0</text>
<text x="268.00" y="586.75" font-size="7" text-anchor="middle" textLength="8.2" lengthAdjust="spacingAndGlyphs">10</text>
<text x="360.60" y="586.75" font-size="7" text-anchor="end" textLength="8.2" lengthAdjust="spacingAndGlyphs">20</text>
<rect x="333.1" y="501.25" width="6.6" height="6.5" fill="#46546a"/>
<rect x="333.1" y="510.95" width="6.6" height="6.4" fill="#c4c4c8"/>
<text x="343.00" y="507.25" font-size="7.8" text-anchor="start" textLength="16.1" lengthAdjust="spacingAndGlyphs">KG-1</text>
<text x="343.00" y="516.75" font-size="7.8" text-anchor="start" textLength="17.2" lengthAdjust="spacingAndGlyphs">ME-1</text>
<rect x="175.00" y="502.20" width="8.90" height="4.90" fill="#46546a"/>
<line x1="183.90" y1="504.65" x2="185.00" y2="504.65" stroke="#111" stroke-width="1.1"/>
<line x1="184.40" y1="503.05" x2="184.40" y2="506.25" stroke="#000" stroke-width="1.3"/>
<rect x="175.00" y="507.10" width="8.90" height="4.80" fill="#c4c4c8"/>
<line x1="183.90" y1="509.50" x2="185.00" y2="509.50" stroke="#111" stroke-width="1.1"/>
<line x1="184.40" y1="507.90" x2="184.40" y2="511.10" stroke="#000" stroke-width="1.3"/>
<rect x="175.00" y="515.30" width="92.30" height="4.90" fill="#46546a"/>
<line x1="267.30" y1="517.75" x2="310.00" y2="517.75" stroke="#111" stroke-width="1.1"/>
<line x1="309.40" y1="516.15" x2="309.40" y2="519.35" stroke="#000" stroke-width="1.3"/>
<rect x="175.00" y="520.20" width="26.80" height="4.80" fill="#c4c4c8"/>
<line x1="201.80" y1="522.60" x2="203.70" y2="522.60" stroke="#111" stroke-width="1.1"/>
<line x1="203.10" y1="521.00" x2="203.10" y2="524.20" stroke="#000" stroke-width="1.3"/>
<rect x="175.00" y="528.40" width="13.30" height="4.90" fill="#46546a"/>
<line x1="188.30" y1="530.85" x2="190.30" y2="530.85" stroke="#111" stroke-width="1.1"/>
<line x1="189.70" y1="529.25" x2="189.70" y2="532.45" stroke="#000" stroke-width="1.3"/>
<ellipse cx="195.00" cy="530.85" rx="1.05" ry="1.1" fill="#222"/>
<rect x="175.00" y="533.30" width="6.60" height="4.80" fill="#c4c4c8"/>
<line x1="181.60" y1="535.70" x2="183.20" y2="535.70" stroke="#111" stroke-width="1.1"/>
<line x1="182.60" y1="534.10" x2="182.60" y2="537.30" stroke="#000" stroke-width="1.3"/>
<ellipse cx="188.40" cy="535.70" rx="1.05" ry="1.1" fill="#222"/>
<ellipse cx="191.60" cy="535.70" rx="1.05" ry="1.1" fill="#222"/>
<rect x="175.00" y="541.50" width="21.00" height="4.90" fill="#46546a"/>
<line x1="196.00" y1="543.95" x2="208.90" y2="543.95" stroke="#111" stroke-width="1.1"/>
<line x1="208.30" y1="542.35" x2="208.30" y2="545.55" stroke="#000" stroke-width="1.3"/>
<rect x="175.00" y="546.40" width="7.60" height="4.80" fill="#c4c4c8"/>
<line x1="182.60" y1="548.80" x2="183.50" y2="548.80" stroke="#111" stroke-width="1.1"/>
<line x1="182.90" y1="547.20" x2="182.90" y2="550.40" stroke="#000" stroke-width="1.3"/>
<ellipse cx="188.40" cy="548.80" rx="1.05" ry="1.1" fill="#222"/>
<ellipse cx="191.60" cy="548.80" rx="1.05" ry="1.1" fill="#222"/>
<rect x="175.00" y="554.60" width="8.90" height="4.90" fill="#46546a"/>
<line x1="183.90" y1="557.05" x2="185.50" y2="557.05" stroke="#111" stroke-width="1.1"/>
<line x1="184.90" y1="555.45" x2="184.90" y2="558.65" stroke="#000" stroke-width="1.3"/>
<rect x="175.00" y="559.50" width="7.60" height="4.80" fill="#c4c4c8"/>
<ellipse cx="188.40" cy="561.90" rx="1.05" ry="1.1" fill="#222"/>
<ellipse cx="191.60" cy="561.90" rx="1.05" ry="1.1" fill="#222"/>
<text x="176.80" y="574.70" font-size="7.8" text-anchor="start" textLength="71.3" lengthAdjust="spacingAndGlyphs">no conserved runx motif</text>
<rect x="420.30" y="506.45" width="20.20" height="11.90" fill="#3c4f8c"/>
<rect x="440.50" y="506.45" width="19.80" height="11.90" fill="#3c4f8c"/>
<rect x="420.30" y="518.35" width="20.20" height="11.90" fill="#fde725"/>
<rect x="440.50" y="518.35" width="19.80" height="11.90" fill="#297a8e"/>
<rect x="420.30" y="530.25" width="20.20" height="11.90" fill="#365c8d"/>
<rect x="440.50" y="530.25" width="19.80" height="11.90" fill="#3c4f8c"/>
<rect x="420.30" y="542.15" width="20.20" height="11.90" fill="#33628d"/>
<rect x="440.50" y="542.15" width="19.80" height="11.90" fill="#3b528b"/>
<rect x="420.30" y="554.05" width="20.20" height="11.90" fill="#2d708e"/>
<rect x="440.50" y="554.05" width="19.80" height="11.90" fill="#3c4f8c"/>
<rect x="420.30" y="565.95" width="20.20" height="11.90" fill="#fff"/>
<path d="M420.30 565.95L440.50 577.85M440.50 565.95L420.30 577.85" stroke="#111" stroke-width="1.25"/>
<rect x="440.50" y="565.95" width="19.80" height="11.90" fill="#fff"/>
<path d="M440.50 565.95L460.30 577.85M460.30 565.95L440.50 577.85" stroke="#111" stroke-width="1.25"/>
<line x1="420.30" y1="506.45" x2="460.30" y2="506.45" stroke="#111" stroke-width="1"/>
<line x1="420.30" y1="518.35" x2="460.30" y2="518.35" stroke="#111" stroke-width="1"/>
<line x1="420.30" y1="530.25" x2="460.30" y2="530.25" stroke="#111" stroke-width="1"/>
<line x1="420.30" y1="542.15" x2="460.30" y2="542.15" stroke="#111" stroke-width="1"/>
<line x1="420.30" y1="554.05" x2="460.30" y2="554.05" stroke="#111" stroke-width="1"/>
<line x1="420.30" y1="565.95" x2="460.30" y2="565.95" stroke="#111" stroke-width="1"/>
<line x1="420.30" y1="577.85" x2="460.30" y2="577.85" stroke="#111" stroke-width="1"/>
<line x1="420.30" y1="505.95" x2="420.30" y2="578.35" stroke="#111" stroke-width="1"/>
<line x1="440.50" y1="505.95" x2="440.50" y2="578.35" stroke="#111" stroke-width="1"/>
<line x1="460.30" y1="505.95" x2="460.30" y2="578.35" stroke="#111" stroke-width="1"/>
<rect x="420.30" y="506.45" width="40.00" height="71.40" fill="none" stroke="#000" stroke-width="1.3"/>
<text x="383.20" y="514.95" font-size="9.9" text-anchor="start" textLength="21.5" lengthAdjust="spacingAndGlyphs">empty</text>
<text x="383.20" y="526.85" font-size="9.9" text-anchor="start" textLength="10.8" lengthAdjust="spacingAndGlyphs">WT</text>
<text x="383.20" y="538.75" font-size="9.9" text-anchor="start" textLength="17.8" lengthAdjust="spacingAndGlyphs">ΔETS</text>
<text x="383.20" y="550.65" font-size="9.9" text-anchor="start" textLength="22.8" lengthAdjust="spacingAndGlyphs">ΔGATA</text>
<text x="383.20" y="562.55" font-size="9.9" text-anchor="start" textLength="23.7" lengthAdjust="spacingAndGlyphs">ΔE-box</text>
<text x="383.20" y="574.45" font-size="9.9" text-anchor="start" textLength="25.4" lengthAdjust="spacingAndGlyphs">ΔRUNX</text>
<text x="422.50" y="585.65" font-size="8.6" text-anchor="start" textLength="14.8" lengthAdjust="spacingAndGlyphs">KG-1</text>
<text x="443.40" y="585.65" font-size="8.6" text-anchor="start" textLength="15.3" lengthAdjust="spacingAndGlyphs">ME-1</text>
<rect x="470.3" y="516.95" width="7.8" height="48.9" fill="url(#vir)"/>
<text x="479.70" y="519.65" font-size="6.6" text-anchor="start" textLength="8.0" lengthAdjust="spacingAndGlyphs">10</text>
<text x="479.70" y="544.10" font-size="6.6" text-anchor="start" textLength="4.0" lengthAdjust="spacingAndGlyphs">5</text>
<text x="479.70" y="568.55" font-size="6.6" text-anchor="start" textLength="4.0" lengthAdjust="spacingAndGlyphs">0</text>
<text transform="translate(510.4 541.75) rotate(-90)" x="0" y="0" font-size="12.2" style="stroke-width:0.35px" text-anchor="middle" textLength="60.80" lengthAdjust="spacingAndGlyphs">GATA2+3.5</text>
<rect x="8.65" y="594.58" width="356.35" height="90.6" fill="none" stroke="#000" stroke-width="1.5"/>
<rect x="373.65" y="594.58" width="139.15" height="90.6" fill="none" stroke="#000" stroke-width="1.5"/>
<text transform="translate(22.5 639.68) rotate(-90)" x="0" y="0" font-size="12" style="stroke-width:0.35px" text-anchor="middle" textLength="60.10" lengthAdjust="spacingAndGlyphs">RUNX1+23</text>
<text x="31.00" y="607.08" font-size="9.9" text-anchor="start" textLength="21.2" lengthAdjust="spacingAndGlyphs">empty</text>
<text x="31.00" y="619.78" font-size="9.9" text-anchor="start" textLength="10.6" lengthAdjust="spacingAndGlyphs">WT</text>
<text x="31.00" y="632.48" font-size="9.9" text-anchor="start" textLength="18.0" lengthAdjust="spacingAndGlyphs">ΔETS</text>
<text x="31.00" y="645.18" font-size="9.9" text-anchor="start" textLength="23.2" lengthAdjust="spacingAndGlyphs">ΔGATA</text>
<text x="31.00" y="657.88" font-size="9.9" text-anchor="start" textLength="24.2" lengthAdjust="spacingAndGlyphs">ΔE-box</text>
<text x="33.20" y="670.58" font-size="9.9" text-anchor="start" textLength="25.8" lengthAdjust="spacingAndGlyphs">ΔRUNX</text>
<line x1="68" y1="602.43" x2="171.6" y2="602.43" stroke="#000" stroke-width="1.5"/>
<rect x="74.80" y="598.68" width="7.80" height="7.5" fill="#fff" stroke="#111" stroke-width="1.5"/>
<text x="78.70" y="605.03" font-size="7.4" text-anchor="middle" textLength="4.0" lengthAdjust="spacingAndGlyphs" fill="#555" style="stroke:#555;stroke-width:0.15px">P</text>
<rect x="85.50" y="598.68" width="13.40" height="7.5" fill="#fff" stroke="#111" stroke-width="1.5"/>
<text x="92.40" y="605.03" font-size="7.4" text-anchor="middle" textLength="10.4" lengthAdjust="spacingAndGlyphs" fill="#555" style="stroke:#555;stroke-width:0.15px">luc</text>
<line x1="68" y1="615.53" x2="171.6" y2="615.53" stroke="#000" stroke-width="1.5"/>
<ellipse cx="122.10" cy="615.53" rx="2.35" ry="2.85" fill="#90c96a"/>
<ellipse cx="126.55" cy="615.53" rx="2.35" ry="2.85" fill="#f6953b"/>
<ellipse cx="131.01" cy="615.53" rx="2.35" ry="2.85" fill="#90c96a"/>
<ellipse cx="135.47" cy="615.53" rx="2.35" ry="2.85" fill="#8d69b2"/>
<ellipse cx="139.92" cy="615.53" rx="2.35" ry="2.85" fill="#6d97d4"/>
<ellipse cx="144.38" cy="615.53" rx="2.35" ry="2.85" fill="#90c96a"/>
<ellipse cx="148.83" cy="615.53" rx="2.35" ry="2.85" fill="#90c96a"/>
<rect x="74.80" y="611.78" width="7.80" height="7.5" fill="#fff" stroke="#111" stroke-width="1.5"/>
<text x="78.70" y="618.13" font-size="7.4" text-anchor="middle" textLength="4.0" lengthAdjust="spacingAndGlyphs" fill="#555" style="stroke:#555;stroke-width:0.15px">P</text>
<rect x="85.50" y="611.78" width="13.40" height="7.5" fill="#fff" stroke="#111" stroke-width="1.5"/>
<text x="92.40" y="618.13" font-size="7.4" text-anchor="middle" textLength="10.4" lengthAdjust="spacingAndGlyphs" fill="#555" style="stroke:#555;stroke-width:0.15px">luc</text>
<line x1="68" y1="628.63" x2="171.6" y2="628.63" stroke="#000" stroke-width="1.5"/>
<ellipse cx="126.55" cy="628.63" rx="2.35" ry="2.85" fill="#f6953b"/>
<ellipse cx="135.47" cy="628.63" rx="2.35" ry="2.85" fill="#8d69b2"/>
<ellipse cx="139.92" cy="628.63" rx="2.35" ry="2.85" fill="#6d97d4"/>
<rect x="74.80" y="624.88" width="7.80" height="7.5" fill="#fff" stroke="#111" stroke-width="1.5"/>
<text x="78.70" y="631.23" font-size="7.4" text-anchor="middle" textLength="4.0" lengthAdjust="spacingAndGlyphs" fill="#555" style="stroke:#555;stroke-width:0.15px">P</text>
<rect x="85.50" y="624.88" width="13.40" height="7.5" fill="#fff" stroke="#111" stroke-width="1.5"/>
<text x="92.40" y="631.23" font-size="7.4" text-anchor="middle" textLength="10.4" lengthAdjust="spacingAndGlyphs" fill="#555" style="stroke:#555;stroke-width:0.15px">luc</text>
<line x1="68" y1="641.73" x2="171.6" y2="641.73" stroke="#000" stroke-width="1.5"/>
<ellipse cx="122.10" cy="641.73" rx="2.35" ry="2.85" fill="#90c96a"/>
<ellipse cx="126.55" cy="641.73" rx="2.35" ry="2.85" fill="#f6953b"/>
<ellipse cx="131.01" cy="641.73" rx="2.35" ry="2.85" fill="#90c96a"/>
<ellipse cx="135.47" cy="641.73" rx="2.35" ry="2.85" fill="#8d69b2"/>
<ellipse cx="144.38" cy="641.73" rx="2.35" ry="2.85" fill="#90c96a"/>
<ellipse cx="148.83" cy="641.73" rx="2.35" ry="2.85" fill="#90c96a"/>
<rect x="74.80" y="637.98" width="7.80" height="7.5" fill="#fff" stroke="#111" stroke-width="1.5"/>
<text x="78.70" y="644.33" font-size="7.4" text-anchor="middle" textLength="4.0" lengthAdjust="spacingAndGlyphs" fill="#555" style="stroke:#555;stroke-width:0.15px">P</text>
<rect x="85.50" y="637.98" width="13.40" height="7.5" fill="#fff" stroke="#111" stroke-width="1.5"/>
<text x="92.40" y="644.33" font-size="7.4" text-anchor="middle" textLength="10.4" lengthAdjust="spacingAndGlyphs" fill="#555" style="stroke:#555;stroke-width:0.15px">luc</text>
<line x1="68" y1="654.83" x2="171.6" y2="654.83" stroke="#000" stroke-width="1.5"/>
<ellipse cx="122.10" cy="654.83" rx="2.35" ry="2.85" fill="#90c96a"/>
<ellipse cx="131.01" cy="654.83" rx="2.35" ry="2.85" fill="#90c96a"/>
<ellipse cx="135.47" cy="654.83" rx="2.35" ry="2.85" fill="#8d69b2"/>
<ellipse cx="139.92" cy="654.83" rx="2.35" ry="2.85" fill="#6d97d4"/>
<ellipse cx="144.38" cy="654.83" rx="2.35" ry="2.85" fill="#90c96a"/>
<ellipse cx="148.83" cy="654.83" rx="2.35" ry="2.85" fill="#90c96a"/>
<rect x="74.80" y="651.08" width="7.80" height="7.5" fill="#fff" stroke="#111" stroke-width="1.5"/>
<text x="78.70" y="657.43" font-size="7.4" text-anchor="middle" textLength="4.0" lengthAdjust="spacingAndGlyphs" fill="#555" style="stroke:#555;stroke-width:0.15px">P</text>
<rect x="85.50" y="651.08" width="13.40" height="7.5" fill="#fff" stroke="#111" stroke-width="1.5"/>
<text x="92.40" y="657.43" font-size="7.4" text-anchor="middle" textLength="10.4" lengthAdjust="spacingAndGlyphs" fill="#555" style="stroke:#555;stroke-width:0.15px">luc</text>
<line x1="68" y1="667.93" x2="171.6" y2="667.93" stroke="#000" stroke-width="1.5"/>
<ellipse cx="122.10" cy="667.93" rx="2.35" ry="2.85" fill="#90c96a"/>
<ellipse cx="126.55" cy="667.93" rx="2.35" ry="2.85" fill="#f6953b"/>
<ellipse cx="131.01" cy="667.93" rx="2.35" ry="2.85" fill="#90c96a"/>
<ellipse cx="139.92" cy="667.93" rx="2.35" ry="2.85" fill="#6d97d4"/>
<ellipse cx="144.38" cy="667.93" rx="2.35" ry="2.85" fill="#90c96a"/>
<ellipse cx="148.83" cy="667.93" rx="2.35" ry="2.85" fill="#90c96a"/>
<rect x="74.80" y="664.18" width="7.80" height="7.5" fill="#fff" stroke="#111" stroke-width="1.5"/>
<text x="78.70" y="670.53" font-size="7.4" text-anchor="middle" textLength="4.0" lengthAdjust="spacingAndGlyphs" fill="#555" style="stroke:#555;stroke-width:0.15px">P</text>
<rect x="85.50" y="664.18" width="13.40" height="7.5" fill="#fff" stroke="#111" stroke-width="1.5"/>
<text x="92.40" y="670.53" font-size="7.4" text-anchor="middle" textLength="10.4" lengthAdjust="spacingAndGlyphs" fill="#555" style="stroke:#555;stroke-width:0.15px">luc</text>
<line x1="174.5" y1="596.18" x2="174.5" y2="676.88" stroke="#000" stroke-width="1.4"/>
<line x1="173.9" y1="674.28" x2="361.9" y2="674.28" stroke="#000" stroke-width="1.3"/>
<line x1="221.25" y1="674.28" x2="221.25" y2="676.68" stroke="#111" stroke-width="1"/>
<line x1="268.00" y1="674.28" x2="268.00" y2="676.68" stroke="#111" stroke-width="1"/>
<line x1="314.75" y1="674.28" x2="314.75" y2="676.68" stroke="#111" stroke-width="1"/>
<line x1="361.50" y1="674.28" x2="361.50" y2="676.68" stroke="#111" stroke-width="1"/>
<text x="177.30" y="682.58" font-size="7" text-anchor="middle" textLength="3.6" lengthAdjust="spacingAndGlyphs">0</text>
<text x="268.00" y="682.58" font-size="7" text-anchor="middle" textLength="8.2" lengthAdjust="spacingAndGlyphs">50</text>
<text x="360.60" y="682.58" font-size="7" text-anchor="end" textLength="12.3" lengthAdjust="spacingAndGlyphs">100</text>
<rect x="333.1" y="597.08" width="6.6" height="6.5" fill="#46546a"/>
<rect x="333.1" y="606.78" width="6.6" height="6.4" fill="#c4c4c8"/>
<text x="343.00" y="603.08" font-size="7.8" text-anchor="start" textLength="16.1" lengthAdjust="spacingAndGlyphs">KG-1</text>
<text x="343.00" y="612.58" font-size="7.8" text-anchor="start" textLength="17.2" lengthAdjust="spacingAndGlyphs">ME-1</text>
<rect x="175.00" y="598.03" width="2.40" height="4.90" fill="#46546a"/>
<rect x="175.00" y="602.93" width="1.20" height="4.80" fill="#c4c4c8"/>
<rect x="175.00" y="611.13" width="147.30" height="4.90" fill="#46546a"/>
<line x1="322.30" y1="613.58" x2="345.80" y2="613.58" stroke="#111" stroke-width="1.1"/>
<line x1="345.20" y1="611.98" x2="345.20" y2="615.18" stroke="#000" stroke-width="1.3"/>
<rect x="175.00" y="616.03" width="73.00" height="4.80" fill="#c4c4c8"/>
<line x1="248.00" y1="618.43" x2="258.80" y2="618.43" stroke="#111" stroke-width="1.1"/>
<line x1="258.20" y1="616.83" x2="258.20" y2="620.03" stroke="#000" stroke-width="1.3"/>
<rect x="175.00" y="624.23" width="12.80" height="4.90" fill="#46546a"/>
<line x1="187.80" y1="626.68" x2="191.20" y2="626.68" stroke="#111" stroke-width="1.1"/>
<line x1="190.60" y1="625.08" x2="190.60" y2="628.28" stroke="#000" stroke-width="1.3"/>
<ellipse cx="198.00" cy="626.68" rx="1.05" ry="1.1" fill="#222"/>
<ellipse cx="201.20" cy="626.68" rx="1.05" ry="1.1" fill="#222"/>
<rect x="175.00" y="629.13" width="10.10" height="4.80" fill="#c4c4c8"/>
<line x1="185.10" y1="631.53" x2="185.60" y2="631.53" stroke="#111" stroke-width="1.1"/>
<line x1="185.00" y1="629.93" x2="185.00" y2="633.13" stroke="#000" stroke-width="1.3"/>
<ellipse cx="191.30" cy="631.53" rx="1.05" ry="1.1" fill="#222"/>
<ellipse cx="194.50" cy="631.53" rx="1.05" ry="1.1" fill="#222"/>
<rect x="175.00" y="637.33" width="2.80" height="4.90" fill="#46546a"/>
<ellipse cx="183.60" cy="639.78" rx="1.05" ry="1.1" fill="#222"/>
<ellipse cx="186.80" cy="639.78" rx="1.05" ry="1.1" fill="#222"/>
<rect x="175.00" y="642.23" width="3.30" height="4.80" fill="#c4c4c8"/>
<ellipse cx="183.60" cy="644.63" rx="1.05" ry="1.1" fill="#222"/>
<ellipse cx="186.80" cy="644.63" rx="1.05" ry="1.1" fill="#222"/>
<rect x="175.00" y="650.43" width="119.60" height="4.90" fill="#46546a"/>
<line x1="294.60" y1="652.88" x2="308.90" y2="652.88" stroke="#111" stroke-width="1.1"/>
<line x1="308.30" y1="651.28" x2="308.30" y2="654.48" stroke="#000" stroke-width="1.3"/>
<rect x="175.00" y="655.33" width="67.80" height="4.80" fill="#c4c4c8"/>
<line x1="242.80" y1="657.73" x2="250.50" y2="657.73" stroke="#111" stroke-width="1.1"/>
<line x1="249.90" y1="656.13" x2="249.90" y2="659.33" stroke="#000" stroke-width="1.3"/>
<rect x="175.00" y="663.53" width="50.80" height="4.90" fill="#46546a"/>
<line x1="225.80" y1="665.98" x2="243.50" y2="665.98" stroke="#111" stroke-width="1.1"/>
<line x1="242.90" y1="664.38" x2="242.90" y2="667.58" stroke="#000" stroke-width="1.3"/>
<ellipse cx="248.50" cy="665.98" rx="1.05" ry="1.1" fill="#222"/>
<rect x="175.00" y="668.43" width="28.70" height="4.80" fill="#c4c4c8"/>
<line x1="203.70" y1="670.83" x2="208.50" y2="670.83" stroke="#111" stroke-width="1.1"/>
<line x1="207.90" y1="669.23" x2="207.90" y2="672.43" stroke="#000" stroke-width="1.3"/>
<ellipse cx="213.00" cy="670.83" rx="1.05" ry="1.1" fill="#222"/>
<rect x="420.30" y="602.28" width="20.20" height="11.90" fill="#3c4f8c"/>
<rect x="440.50" y="602.28" width="19.80" height="11.90" fill="#3c4f8c"/>
<rect x="420.30" y="614.18" width="20.20" height="11.90" fill="#fde725"/>
<rect x="440.50" y="614.18" width="19.80" height="11.90" fill="#4ec36b"/>
<rect x="420.30" y="626.08" width="20.20" height="11.90" fill="#2e6e8e"/>
<rect x="440.50" y="626.08" width="19.80" height="11.90" fill="#2e6e8e"/>
<rect x="420.30" y="637.98" width="20.20" height="11.90" fill="#3c4f8c"/>
<rect x="440.50" y="637.98" width="19.80" height="11.90" fill="#3c4f8c"/>
<rect x="420.30" y="649.88" width="20.20" height="11.90" fill="#a3d93e"/>
<rect x="440.50" y="649.88" width="19.80" height="11.90" fill="#6ccd5a"/>
<rect x="420.30" y="661.78" width="20.20" height="11.90" fill="#20a386"/>
<rect x="440.50" y="661.78" width="19.80" height="11.90" fill="#27818e"/>
<line x1="420.30" y1="602.28" x2="460.30" y2="602.28" stroke="#111" stroke-width="1"/>
<line x1="420.30" y1="614.18" x2="460.30" y2="614.18" stroke="#111" stroke-width="1"/>
<line x1="420.30" y1="626.08" x2="460.30" y2="626.08" stroke="#111" stroke-width="1"/>
<line x1="420.30" y1="637.98" x2="460.30" y2="637.98" stroke="#111" stroke-width="1"/>
<line x1="420.30" y1="649.88" x2="460.30" y2="649.88" stroke="#111" stroke-width="1"/>
<line x1="420.30" y1="661.78" x2="460.30" y2="661.78" stroke="#111" stroke-width="1"/>
<line x1="420.30" y1="673.68" x2="460.30" y2="673.68" stroke="#111" stroke-width="1"/>
<line x1="420.30" y1="601.78" x2="420.30" y2="674.18" stroke="#111" stroke-width="1"/>
<line x1="440.50" y1="601.78" x2="440.50" y2="674.18" stroke="#111" stroke-width="1"/>
<line x1="460.30" y1="601.78" x2="460.30" y2="674.18" stroke="#111" stroke-width="1"/>
<rect x="420.30" y="602.28" width="40.00" height="71.40" fill="none" stroke="#000" stroke-width="1.3"/>
<text x="383.20" y="610.78" font-size="9.9" text-anchor="start" textLength="21.5" lengthAdjust="spacingAndGlyphs">empty</text>
<text x="383.20" y="622.68" font-size="9.9" text-anchor="start" textLength="10.8" lengthAdjust="spacingAndGlyphs">WT</text>
<text x="383.20" y="634.58" font-size="9.9" text-anchor="start" textLength="17.8" lengthAdjust="spacingAndGlyphs">ΔETS</text>
<text x="383.20" y="646.48" font-size="9.9" text-anchor="start" textLength="22.8" lengthAdjust="spacingAndGlyphs">ΔGATA</text>
<text x="383.20" y="658.38" font-size="9.9" text-anchor="start" textLength="23.7" lengthAdjust="spacingAndGlyphs">ΔE-box</text>
<text x="383.20" y="670.28" font-size="9.9" text-anchor="start" textLength="25.4" lengthAdjust="spacingAndGlyphs">ΔRUNX</text>
<text x="422.50" y="681.48" font-size="8.6" text-anchor="start" textLength="14.8" lengthAdjust="spacingAndGlyphs">KG-1</text>
<text x="443.40" y="681.48" font-size="8.6" text-anchor="start" textLength="15.3" lengthAdjust="spacingAndGlyphs">ME-1</text>
<rect x="470.3" y="612.78" width="7.8" height="48.9" fill="url(#vir)"/>
<text x="479.70" y="615.48" font-size="6.6" text-anchor="start" textLength="8.0" lengthAdjust="spacingAndGlyphs">80</text>
<text x="479.70" y="639.93" font-size="6.6" text-anchor="start" textLength="8.0" lengthAdjust="spacingAndGlyphs">40</text>
<text x="479.70" y="664.38" font-size="6.6" text-anchor="start" textLength="4.0" lengthAdjust="spacingAndGlyphs">0</text>
<text transform="translate(510.4 637.58) rotate(-90)" x="0" y="0" font-size="12.2" style="stroke-width:0.35px" text-anchor="middle" textLength="60.10" lengthAdjust="spacingAndGlyphs">RUNX1+23</text>
<rect x="432.4" y="692.0" width="18.6" height="10.5" fill="#fff" stroke="#111" stroke-width="1.6"/>
<path d="M432.4 692L451 702.5M451 692L432.4 702.5" stroke="#111" stroke-width="1.1"/>
<text x="454.80" y="700.20" font-size="9.2" text-anchor="start" textLength="56.7" lengthAdjust="spacingAndGlyphs">motif not present</text>
</g></svg>
</body></html>
